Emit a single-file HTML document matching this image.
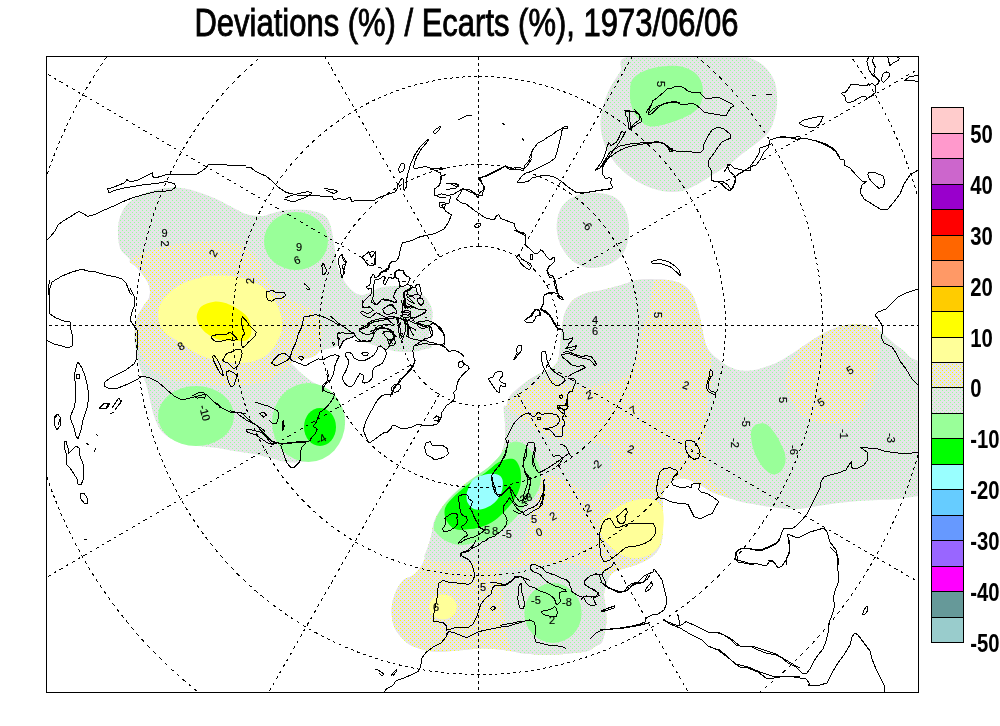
<!DOCTYPE html>
<html><head><meta charset="utf-8"><title>Deviations (%) / Ecarts (%), 1973/06/06</title>
<style>
html,body{margin:0;padding:0;background:#fff;width:1000px;height:726px;overflow:hidden}
svg{display:block}
.leg{font-family:"Liberation Sans",Arial,sans-serif;font-weight:bold;font-size:26px;fill:#000}
.ttl{font-family:"Liberation Sans",Arial,sans-serif;font-size:39px;fill:#000}
.lab{font-family:"Liberation Sans",Arial,sans-serif;font-size:11px;fill:#000;stroke:#000;stroke-width:0.15}
</style></head><body>
<svg width="1000" height="726" viewBox="0 0 1000 726">
<defs>
<clipPath id="frameclip"><rect x="46" y="56" width="873" height="637"/></clipPath>
<pattern id="pG" width="4" height="4" patternUnits="userSpaceOnUse"><rect width="4" height="4" fill="#E6E4E8"/><rect x="0" y="0" width="1" height="1" fill="#99FF99"/><rect x="2" y="2" width="1" height="1" fill="#99FF99"/></pattern>
<pattern id="pY" width="4" height="4" patternUnits="userSpaceOnUse"><rect width="4" height="4" fill="#E6E4E8"/><rect x="0" y="0" width="1" height="1" fill="#FFFF00"/><rect x="2" y="2" width="1" height="1" fill="#FFFF00"/></pattern>
</defs>
<rect width="1000" height="726" fill="#fff"/>
<text class="ttl" x="194.5" y="36" textLength="544" lengthAdjust="spacingAndGlyphs" stroke="#000" stroke-width="0.9">Deviations (%) / Ecarts (%), 1973/06/06</text>
<g clip-path="url(#frameclip)">
<path d="M120.0,248.0 C118.2,243.0 117.7,234.0 118.0,228.0 C118.3,222.0 119.7,216.7 122.0,212.0 C124.3,207.3 127.7,203.3 132.0,200.0 C136.3,196.7 142.3,194.0 148.0,192.0 C153.7,190.0 160.3,188.7 166.0,188.0 C171.7,187.3 176.7,187.3 182.0,188.0 C187.3,188.7 192.7,190.3 198.0,192.0 C203.3,193.7 208.7,195.7 214.0,198.0 C219.3,200.3 224.7,203.3 230.0,206.0 C235.3,208.7 240.7,212.3 246.0,214.0 C251.3,215.7 258.0,216.0 262.0,216.0 C266.0,216.0 266.0,215.0 270.0,214.0 C274.0,213.0 280.0,210.7 286.0,210.0 C292.0,209.3 300.0,209.3 306.0,210.0 C312.0,210.7 318.0,211.7 322.0,214.0 C326.0,216.3 327.8,218.0 330.0,224.0 C332.2,230.0 333.8,243.3 335.0,250.0 C336.2,256.7 336.0,259.8 337.0,264.0 C338.0,268.2 339.3,271.5 341.0,275.0 C342.7,278.5 344.8,282.2 347.0,285.0 C349.2,287.8 351.5,290.3 354.0,292.0 C356.5,293.7 359.2,295.0 362.0,295.0 C364.8,295.0 368.2,293.2 371.0,292.0 C373.8,290.8 376.3,288.9 379.0,288.0 C381.7,287.1 384.2,286.8 387.0,286.5 C389.8,286.2 393.2,286.0 396.0,286.0 C398.8,286.0 401.2,286.0 404.0,286.5 C406.8,287.0 410.2,287.8 413.0,289.0 C415.8,290.2 418.5,291.7 421.0,293.6 C423.5,295.5 426.2,298.0 428.0,300.6 C429.8,303.2 431.2,306.2 432.0,309.0 C432.8,311.8 432.7,314.7 432.5,317.5 C432.3,320.3 431.6,323.2 431.0,326.0 C430.4,328.8 429.5,331.5 429.0,334.0 C428.5,336.5 427.5,338.8 428.0,341.0 C428.5,343.2 432.7,345.6 432.0,347.0 C431.3,348.4 426.9,348.8 424.0,349.6 C421.1,350.4 417.6,351.3 414.4,351.7 C411.2,352.1 408.0,352.1 404.8,352.0 C401.6,351.9 398.4,351.7 395.2,351.2 C392.0,350.7 388.3,349.5 385.6,348.8 C382.9,348.1 381.3,347.9 379.2,347.2 C377.1,346.5 374.9,345.6 372.8,344.8 C370.7,344.0 368.5,343.2 366.4,342.4 C364.3,341.6 362.1,340.9 360.0,340.0 C357.9,339.1 355.7,336.8 353.6,336.8 C351.5,336.8 349.3,338.8 347.2,340.0 C345.1,341.2 342.9,342.8 340.8,344.0 C338.7,345.2 337.1,346.3 334.4,347.2 C331.7,348.1 328.0,348.7 324.8,349.6 C321.6,350.5 318.4,351.7 315.2,352.8 C312.0,353.9 308.8,355.1 305.6,356.0 C302.4,356.9 298.7,357.5 296.0,358.4 C293.3,359.3 289.9,360.3 289.6,361.6 C289.3,362.9 292.5,364.5 294.4,366.4 C296.3,368.3 298.1,370.4 300.8,372.8 C303.5,375.2 307.3,378.4 310.8,380.8 C314.3,383.2 318.5,384.8 322.0,387.2 C325.5,389.6 328.7,392.5 331.6,395.2 C334.5,397.9 337.5,400.3 339.6,403.2 C341.7,406.1 343.5,409.3 344.4,412.8 C345.3,416.3 345.4,420.1 345.0,424.0 C344.6,427.9 343.5,432.3 342.0,436.0 C340.5,439.7 338.7,443.0 336.0,446.0 C333.3,449.0 329.7,451.7 326.0,454.0 C322.3,456.3 318.0,458.7 314.0,460.0 C310.0,461.3 306.7,461.7 302.0,462.0 C297.3,462.3 291.3,462.7 286.0,462.0 C280.7,461.3 275.3,459.3 270.0,458.0 C264.7,456.7 260.0,455.2 254.0,454.0 C248.0,452.8 240.0,452.0 234.0,451.0 C228.0,450.0 224.0,448.8 218.0,448.0 C212.0,447.2 204.7,447.0 198.0,446.0 C191.3,445.0 184.0,444.3 178.0,442.0 C172.0,439.7 166.0,436.3 162.0,432.0 C158.0,427.7 156.0,421.3 154.0,416.0 C152.0,410.7 151.3,405.3 150.0,400.0 C148.7,394.7 147.7,389.3 146.0,384.0 C144.3,378.7 141.7,373.7 140.0,368.0 C138.3,362.3 136.9,354.7 136.0,350.0 C135.1,345.3 134.7,343.2 134.5,340.0 C134.3,336.8 134.5,334.3 134.8,331.0 C135.1,327.7 135.6,323.1 136.4,320.0 C137.2,316.9 138.2,315.2 139.4,312.7 C140.7,310.2 142.4,307.5 143.9,305.2 C145.4,302.9 147.5,301.3 148.5,299.0 C149.5,296.7 150.0,294.0 150.0,291.5 C150.0,289.0 149.5,286.5 148.5,284.0 C147.5,281.5 146.0,279.2 144.0,276.4 C142.0,273.6 138.9,270.3 136.4,267.3 C133.9,264.3 131.5,261.4 128.8,258.2 C126.1,255.0 121.8,253.0 120.0,248.0Z" fill="url(#pG)"/>
<path d="M632.0,56.0 C613.0,58.7 624.0,66.0 620.0,72.0 C616.0,78.0 611.2,84.7 608.0,92.0 C604.8,99.3 602.0,108.7 601.0,116.0 C600.0,123.3 600.5,129.3 602.0,136.0 C603.5,142.7 606.3,150.0 610.0,156.0 C613.7,162.0 618.7,167.3 624.0,172.0 C629.3,176.7 635.7,180.8 642.0,184.0 C648.3,187.2 655.3,189.8 662.0,191.0 C668.7,192.2 676.0,192.2 682.0,191.0 C688.0,189.8 692.7,186.8 698.0,184.0 C703.3,181.2 708.7,177.3 714.0,174.0 C719.3,170.7 725.3,167.3 730.0,164.0 C734.7,160.7 737.3,157.7 742.0,154.0 C746.7,150.3 753.3,146.0 758.0,142.0 C762.7,138.0 767.0,135.0 770.0,130.0 C773.0,125.0 774.8,117.7 776.0,112.0 C777.2,106.3 777.3,101.3 777.0,96.0 C776.7,90.7 776.2,85.0 774.0,80.0 C771.8,75.0 768.0,69.7 764.0,66.0 C760.0,62.3 755.0,59.7 750.0,58.0 C745.0,56.3 753.7,56.3 734.0,56.0 C714.3,55.7 651.0,53.3 632.0,56.0Z" fill="url(#pG)"/>
<path d="M558.0,216.0 C559.2,211.3 560.7,207.5 564.0,204.0 C567.3,200.5 572.3,196.8 578.0,195.0 C583.7,193.2 591.7,192.5 598.0,193.0 C604.3,193.5 611.3,194.8 616.0,198.0 C620.7,201.2 623.8,206.3 626.0,212.0 C628.2,217.7 629.3,225.3 629.0,232.0 C628.7,238.7 627.2,246.7 624.0,252.0 C620.8,257.3 615.7,261.3 610.0,264.0 C604.3,266.7 596.0,268.3 590.0,268.0 C584.0,267.7 578.7,265.3 574.0,262.0 C569.3,258.7 564.8,253.0 562.0,248.0 C559.2,243.0 557.7,237.3 557.0,232.0 C556.3,226.7 556.8,220.7 558.0,216.0Z" fill="url(#pG)"/>
<path d="M507.8,400.0 C508.4,398.0 508.0,400.0 510.0,398.0 C512.0,396.0 516.0,391.3 520.0,388.0 C524.0,384.7 530.0,380.3 534.0,378.0 C538.0,375.7 541.0,375.7 544.0,374.0 C547.0,372.3 549.7,370.3 552.0,368.0 C554.3,365.7 556.7,363.0 558.0,360.0 C559.3,357.0 559.5,354.3 560.0,350.0 C560.5,345.7 560.3,339.0 561.0,334.0 C561.7,329.0 562.2,324.7 564.0,320.0 C565.8,315.3 568.7,310.3 572.0,306.0 C575.3,301.7 579.2,296.6 584.0,294.0 C588.8,291.4 595.6,291.6 600.8,290.4 C606.0,289.2 610.6,288.0 615.0,286.8 C619.4,285.6 624.0,284.2 627.0,283.2 C630.0,282.2 630.2,281.6 633.0,281.0 C635.8,280.4 638.2,279.8 644.0,279.6 C649.8,279.4 661.6,279.2 668.0,280.0 C674.4,280.8 678.4,282.1 682.4,284.4 C686.4,286.7 689.2,289.2 692.0,294.0 C694.8,298.8 697.2,306.7 699.0,313.0 C700.8,319.3 701.6,326.7 702.8,332.0 C704.0,337.3 704.5,341.3 706.0,345.0 C707.5,348.7 710.0,351.7 712.0,354.0 C714.0,356.3 715.7,357.2 718.0,359.0 C720.3,360.8 722.7,363.2 726.0,365.0 C729.3,366.8 734.0,369.1 738.0,370.0 C742.0,370.9 746.0,370.9 750.0,370.6 C754.0,370.3 757.7,369.3 762.0,368.0 C766.3,366.7 771.3,365.2 776.0,363.0 C780.7,360.8 785.7,357.7 790.0,355.0 C794.3,352.3 798.0,349.7 802.0,347.0 C806.0,344.3 810.0,341.5 814.0,339.0 C818.0,336.5 822.0,334.0 826.0,332.0 C830.0,330.0 834.0,328.2 838.0,327.0 C842.0,325.8 846.0,325.0 850.0,324.6 C854.0,324.2 858.3,324.2 862.0,324.6 C865.7,325.0 869.0,325.9 872.0,327.0 C875.0,328.1 877.3,329.2 880.0,331.0 C882.7,332.8 885.3,335.7 888.0,338.0 C890.7,340.3 893.3,342.8 896.0,345.0 C898.7,347.2 901.7,349.0 904.0,351.0 C906.3,353.0 907.7,355.3 910.0,357.0 C912.3,358.7 914.7,359.5 918.0,361.0 C921.3,362.5 928.0,343.8 930.0,366.0 C932.0,388.2 932.0,472.3 930.0,494.0 C928.0,515.7 923.3,495.2 918.0,496.0 C912.7,496.8 904.7,498.3 898.0,499.0 C891.3,499.7 884.7,499.7 878.0,500.0 C871.3,500.3 864.7,500.5 858.0,501.0 C851.3,501.5 844.7,502.2 838.0,503.0 C831.3,503.8 824.7,505.0 818.0,506.0 C811.3,507.0 804.7,508.7 798.0,509.0 C791.3,509.3 784.7,508.7 778.0,508.0 C771.3,507.3 764.7,506.2 758.0,505.0 C751.3,503.8 744.3,502.7 738.0,501.0 C731.7,499.3 724.7,496.7 720.0,495.0 C715.3,493.3 713.0,492.5 710.0,491.0 C707.0,489.5 704.7,487.5 702.0,486.0 C699.3,484.5 696.7,483.2 694.0,482.0 C691.3,480.8 688.7,479.5 686.0,479.0 C683.3,478.5 680.7,478.3 678.0,479.0 C675.3,479.7 672.5,480.5 670.0,483.0 C667.5,485.5 664.2,490.2 663.0,494.0 C661.8,497.8 663.0,501.0 663.0,506.0 C663.0,511.0 663.2,518.3 663.0,524.0 C662.8,529.7 662.8,535.7 662.0,540.0 C661.2,544.3 660.0,547.0 658.0,550.0 C656.0,553.0 653.3,555.7 650.0,558.0 C646.7,560.3 642.0,562.3 638.0,564.0 C634.0,565.7 630.0,566.7 626.0,568.0 C622.0,569.3 617.0,570.0 614.0,572.0 C611.0,574.0 609.7,576.3 608.0,580.0 C606.3,583.7 604.3,589.0 604.0,594.0 C603.7,599.0 605.7,604.7 606.0,610.0 C606.3,615.3 606.7,620.7 606.0,626.0 C605.3,631.3 603.7,638.7 602.0,642.0 C600.3,645.3 597.8,644.7 595.8,646.0 C593.8,647.3 592.2,649.0 590.0,650.0 C587.8,651.0 585.5,651.5 582.8,652.0 C580.1,652.5 578.3,652.6 574.0,653.0 C569.7,653.4 563.1,654.2 556.8,654.4 C550.5,654.6 542.9,654.8 536.0,654.4 C529.1,654.0 521.7,652.7 515.2,651.8 C508.7,650.9 503.1,649.7 497.0,649.2 C490.9,648.7 485.3,648.5 478.8,648.7 C472.3,648.9 464.9,650.0 458.0,650.5 C451.1,651.0 443.3,652.0 437.2,651.8 C431.1,651.6 426.4,650.5 421.6,649.2 C416.8,647.9 412.5,646.6 408.6,644.0 C404.7,641.4 400.8,637.1 398.2,633.6 C395.6,630.1 394.1,627.5 393.0,623.2 C391.9,618.9 391.3,612.8 391.7,607.6 C392.1,602.4 393.7,596.6 395.6,592.0 C397.6,587.4 400.6,582.8 403.4,580.0 C406.2,577.2 409.8,577.5 412.6,575.5 C415.4,573.5 417.9,570.9 420.0,568.0 C422.1,565.1 423.7,561.3 425.0,558.0 C426.3,554.7 426.5,551.8 427.6,548.0 C428.7,544.2 430.3,539.7 431.4,535.4 C432.5,531.1 432.5,526.2 434.0,522.0 C435.5,517.8 437.1,514.8 440.2,510.3 C443.3,505.9 447.7,500.3 452.7,495.3 C457.7,490.3 464.3,484.8 470.2,480.2 C476.1,475.6 482.8,471.9 487.8,467.7 C492.8,463.5 497.4,459.8 500.3,455.2 C503.2,450.6 504.2,445.0 505.0,440.0 C505.8,435.0 504.7,430.0 505.0,425.0 C505.3,420.0 506.1,414.2 506.6,410.0 C507.1,405.8 507.2,402.0 507.8,400.0Z" fill="url(#pG)"/>
<path d="M129.5,261.0 C129.9,258.9 135.6,256.7 139.0,255.0 C142.4,253.3 146.2,251.9 150.0,250.6 C153.8,249.3 156.0,248.3 162.0,247.0 C168.0,245.7 177.3,243.8 186.0,243.0 C194.7,242.2 205.3,241.8 214.0,242.0 C222.7,242.2 231.0,241.7 238.0,244.0 C245.0,246.3 251.3,250.7 256.0,256.0 C260.7,261.3 263.3,270.7 266.0,276.0 C268.7,281.3 268.5,284.2 272.0,288.0 C275.5,291.8 282.7,296.5 287.0,299.0 C291.3,301.5 294.3,301.5 298.0,303.0 C301.7,304.5 306.2,306.6 309.0,308.0 C311.8,309.4 313.2,309.5 315.0,311.5 C316.8,313.5 318.8,317.6 320.0,320.0 C321.2,322.4 321.7,322.7 322.0,326.0 C322.3,329.3 322.5,335.7 322.0,340.0 C321.5,344.3 321.0,349.0 319.0,352.0 C317.0,355.0 313.8,356.7 310.0,358.0 C306.2,359.3 300.0,358.3 296.0,360.0 C292.0,361.7 290.3,364.7 286.0,368.0 C281.7,371.3 275.3,377.3 270.0,380.0 C264.7,382.7 260.7,383.0 254.0,384.0 C247.3,385.0 238.0,386.0 230.0,386.0 C222.0,386.0 215.3,385.0 206.0,384.0 C196.7,383.0 183.3,382.7 174.0,380.0 C164.7,377.3 155.7,372.7 150.0,368.0 C144.3,363.3 142.3,356.7 140.0,352.0 C137.7,347.3 136.9,343.5 136.0,340.0 C135.1,336.5 134.7,334.3 134.8,331.0 C134.9,327.7 135.6,323.1 136.4,320.0 C137.2,316.9 138.2,315.2 139.4,312.7 C140.7,310.2 142.4,307.5 143.9,305.2 C145.4,302.9 147.5,301.3 148.5,299.0 C149.5,296.7 150.0,294.0 150.0,291.5 C150.0,289.0 149.5,286.5 148.5,284.0 C147.5,281.5 146.0,279.2 144.0,276.4 C142.0,273.6 138.8,269.9 136.4,267.3 C134.0,264.7 129.1,263.1 129.5,261.0Z" fill="url(#pY)"/>
<path d="M633.0,281.0 C635.8,280.4 638.2,279.8 644.0,279.6 C649.8,279.4 661.6,279.2 668.0,280.0 C674.4,280.8 678.4,282.1 682.4,284.4 C686.4,286.7 689.2,289.2 692.0,294.0 C694.8,298.8 697.2,306.7 699.0,313.0 C700.8,319.3 701.6,326.7 702.8,332.0 C704.0,337.3 704.6,340.7 706.0,345.0 C707.4,349.3 710.0,353.5 711.0,358.0 C712.0,362.5 712.0,367.5 712.0,372.0 C712.0,376.5 711.7,381.0 711.0,385.0 C710.3,389.0 708.7,391.8 708.0,396.0 C707.3,400.2 707.2,405.3 707.0,410.0 C706.8,414.7 706.7,419.3 706.5,424.0 C706.3,428.7 706.1,433.3 706.0,438.0 C705.9,442.7 705.8,447.7 706.0,452.0 C706.2,456.3 706.8,460.0 707.5,464.0 C708.2,468.0 709.0,472.6 710.4,476.0 C711.8,479.4 713.8,482.3 716.0,484.7 C718.2,487.1 721.1,488.5 723.4,490.4 C725.7,492.3 730.6,495.2 730.0,496.0 C729.4,496.8 723.3,495.8 720.0,495.0 C716.7,494.2 713.0,492.5 710.0,491.0 C707.0,489.5 704.7,487.5 702.0,486.0 C699.3,484.5 696.7,483.2 694.0,482.0 C691.3,480.8 688.7,479.5 686.0,479.0 C683.3,478.5 680.7,478.3 678.0,479.0 C675.3,479.7 672.5,480.5 670.0,483.0 C667.5,485.5 664.2,490.2 663.0,494.0 C661.8,497.8 663.0,501.0 663.0,506.0 C663.0,511.0 663.2,518.3 663.0,524.0 C662.8,529.7 662.8,535.7 662.0,540.0 C661.2,544.3 660.0,547.0 658.0,550.0 C656.0,553.0 653.3,555.7 650.0,558.0 C646.7,560.3 642.0,562.3 638.0,564.0 C634.0,565.7 630.0,566.7 626.0,568.0 C622.0,569.3 617.0,570.0 614.0,572.0 C611.0,574.0 609.7,576.3 608.0,580.0 C606.3,583.7 604.3,589.0 604.0,594.0 C603.7,599.0 605.7,604.7 606.0,610.0 C606.3,615.3 606.7,620.7 606.0,626.0 C605.3,631.3 603.7,638.7 602.0,642.0 C600.3,645.3 597.8,644.7 595.8,646.0 C593.8,647.3 592.2,649.0 590.0,650.0 C587.8,651.0 585.5,651.5 582.8,652.0 C580.1,652.5 578.3,652.6 574.0,653.0 C569.7,653.4 563.1,654.2 556.8,654.4 C550.5,654.6 542.9,654.8 536.0,654.4 C529.1,654.0 521.7,652.7 515.2,651.8 C508.7,650.9 503.1,649.7 497.0,649.2 C490.9,648.7 485.3,648.5 478.8,648.7 C472.3,648.9 464.9,650.0 458.0,650.5 C451.1,651.0 443.3,652.0 437.2,651.8 C431.1,651.6 426.4,650.5 421.6,649.2 C416.8,647.9 412.5,646.6 408.6,644.0 C404.7,641.4 400.8,637.1 398.2,633.6 C395.6,630.1 394.1,627.5 393.0,623.2 C391.9,618.9 391.3,612.8 391.7,607.6 C392.1,602.4 393.7,596.6 395.6,592.0 C397.6,587.4 400.6,582.8 403.4,580.0 C406.2,577.2 409.8,577.5 412.6,575.5 C415.4,573.5 417.9,570.9 420.0,568.0 C422.1,565.1 423.7,561.3 425.0,558.0 C426.3,554.7 426.5,551.8 427.6,548.0 C428.7,544.2 430.3,539.7 431.4,535.4 C432.5,531.1 432.6,526.2 434.0,522.0 C435.4,517.8 437.0,514.5 440.0,510.0 C443.0,505.5 447.0,500.0 452.0,495.0 C457.0,490.0 464.0,484.5 470.0,480.0 C476.0,475.5 483.0,472.2 488.0,468.0 C493.0,463.8 497.2,459.7 500.0,455.0 C502.8,450.3 504.2,445.0 505.0,440.0 C505.8,435.0 504.5,431.7 505.0,425.0 C505.5,418.3 505.5,406.2 507.8,400.0 C510.1,393.8 514.3,391.7 519.0,387.6 C523.7,383.5 530.0,379.2 536.0,375.6 C542.0,372.0 551.2,369.2 555.0,366.0 C558.8,362.8 557.8,361.2 558.8,356.4 C559.8,351.6 560.4,342.2 561.0,337.0 C561.6,331.8 561.8,329.0 562.4,325.0 C563.0,321.0 563.2,317.0 564.8,313.0 C566.4,309.0 568.8,304.2 572.0,301.0 C575.2,297.8 579.2,295.8 584.0,294.0 C588.8,292.2 595.6,291.6 600.8,290.4 C606.0,289.2 610.6,288.0 615.0,286.8 C619.4,285.6 624.0,284.2 627.0,283.2 C630.0,282.2 630.2,281.6 633.0,281.0Z" fill="url(#pY)"/>
<path d="M798.0,351.0 C796.0,354.0 792.0,360.3 790.0,365.0 C788.0,369.7 786.3,374.3 786.0,379.0 C785.7,383.7 786.7,388.7 788.0,393.0 C789.3,397.3 791.7,401.3 794.0,405.0 C796.3,408.7 798.3,412.2 802.0,415.0 C805.7,417.8 810.5,420.5 816.0,422.0 C821.5,423.5 829.3,424.0 835.0,424.0 C840.7,424.0 846.2,423.3 850.0,422.0 C853.8,420.7 855.3,419.3 858.0,416.0 C860.7,412.7 863.3,407.8 866.0,402.0 C868.7,396.2 872.0,387.2 874.0,381.0 C876.0,374.8 877.0,371.0 878.0,365.0 C879.0,359.0 880.0,351.0 880.0,345.0 C880.0,339.0 879.3,332.0 878.0,329.0 C876.7,326.0 874.7,327.7 872.0,327.0 C869.3,326.3 865.7,325.0 862.0,324.6 C858.3,324.2 854.0,324.2 850.0,324.6 C846.0,325.0 842.0,325.8 838.0,327.0 C834.0,328.2 830.0,330.0 826.0,332.0 C822.0,334.0 818.0,336.5 814.0,339.0 C810.0,341.5 804.7,345.0 802.0,347.0 C799.3,349.0 800.0,348.0 798.0,351.0Z" fill="url(#pY)"/>
<path d="M507.8,400.0 C507.4,400.1 507.7,401.7 509.6,399.6 C511.5,397.5 514.6,391.6 519.0,387.6 C523.4,383.6 530.0,379.2 536.0,375.6 C542.0,372.0 551.2,369.2 555.0,366.0 C558.8,362.8 557.8,361.2 558.8,356.4 C559.8,351.6 560.4,342.2 561.0,337.0 C561.6,331.8 561.8,329.0 562.4,325.0 C563.0,321.0 563.2,317.0 564.8,313.0 C566.4,309.0 568.8,304.2 572.0,301.0 C575.2,297.8 579.2,295.8 584.0,294.0 C588.8,292.2 595.6,291.6 600.8,290.4 C606.0,289.2 610.6,288.0 615.0,286.8 C619.4,285.6 624.0,284.2 627.0,283.2 C630.0,282.2 630.2,281.6 633.0,281.0 C635.8,280.4 640.6,279.8 644.0,279.6 C647.4,279.4 652.2,278.2 653.6,279.6 C655.0,281.0 652.9,285.3 652.4,288.0 C651.9,290.7 651.2,293.3 650.8,296.0 C650.4,298.7 650.4,301.3 650.0,304.0 C649.6,306.7 649.1,309.3 648.4,312.0 C647.7,314.7 647.1,317.0 646.0,320.0 C644.9,323.0 643.0,326.7 642.0,330.0 C641.0,333.3 640.7,336.7 640.0,340.0 C639.3,343.3 638.7,346.7 638.0,350.0 C637.3,353.3 636.8,357.0 636.0,360.0 C635.2,363.0 634.3,365.7 633.0,368.0 C631.7,370.3 630.2,372.2 628.0,374.0 C625.8,375.8 623.0,377.7 620.0,379.0 C617.0,380.3 613.3,381.0 610.0,382.0 C606.7,383.0 603.3,384.2 600.0,385.0 C596.7,385.8 593.3,386.5 590.0,387.0 C586.7,387.5 583.3,388.2 580.0,388.0 C576.7,387.8 573.3,387.2 570.0,386.0 C566.7,384.8 563.3,382.3 560.0,381.0 C556.7,379.7 553.3,378.2 550.0,378.0 C546.7,377.8 543.3,378.7 540.0,380.0 C536.7,381.3 533.3,383.8 530.0,386.0 C526.7,388.2 523.0,390.8 520.0,393.0 C517.0,395.2 514.0,397.8 512.0,399.0 C510.0,400.2 508.2,399.9 507.8,400.0Z" fill="url(#pG)"/>
<path d="M504.0,406.0 C505.2,403.8 509.3,410.0 512.0,412.0 C514.7,414.0 517.0,416.0 520.0,418.0 C523.0,420.0 526.7,421.7 530.0,424.0 C533.3,426.3 536.7,429.8 540.0,432.0 C543.3,434.2 546.7,435.7 550.0,437.0 C553.3,438.3 556.7,439.7 560.0,440.0 C563.3,440.3 566.7,439.0 570.0,439.0 C573.3,439.0 576.7,439.5 580.0,440.0 C583.3,440.5 586.7,441.3 590.0,442.0 C593.3,442.7 596.7,443.0 600.0,444.0 C603.3,445.0 608.1,446.3 610.0,448.0 C611.9,449.7 611.0,451.0 611.2,454.0 C611.4,457.0 611.4,462.0 611.2,466.0 C611.0,470.0 611.0,474.5 610.0,478.0 C609.0,481.5 607.5,485.0 605.0,487.0 C602.5,489.0 599.2,489.8 595.0,490.0 C590.8,490.2 585.0,489.7 580.0,488.0 C575.0,486.3 570.0,482.2 565.0,480.0 C560.0,477.8 554.2,475.0 550.0,475.0 C545.8,475.0 542.0,476.7 540.0,480.0 C538.0,483.3 539.3,490.0 538.0,495.0 C536.7,500.0 533.7,505.0 532.0,510.0 C530.3,515.0 529.2,520.0 528.0,525.0 C526.8,530.0 526.3,534.8 525.0,540.0 C523.7,545.2 523.3,552.3 520.0,556.0 C516.7,559.7 511.7,561.0 505.0,562.0 C498.3,563.0 487.5,562.0 480.0,562.0 C472.5,562.0 466.7,562.0 460.0,562.0 C453.3,562.0 445.8,562.7 440.0,562.0 C434.2,561.3 427.1,560.3 425.0,558.0 C422.9,555.7 426.5,551.8 427.6,548.0 C428.7,544.2 430.3,539.7 431.4,535.4 C432.5,531.1 432.5,526.2 434.0,522.0 C435.5,517.8 437.1,514.8 440.2,510.3 C443.3,505.9 447.7,500.3 452.7,495.3 C457.7,490.3 464.3,484.8 470.2,480.2 C476.1,475.6 482.8,471.9 487.8,467.7 C492.8,463.5 497.4,459.8 500.3,455.2 C503.2,450.6 504.2,445.0 505.0,440.0 C505.8,435.0 505.2,430.7 505.0,425.0 C504.8,419.3 502.8,408.2 504.0,406.0Z" fill="url(#pG)"/>
<path d="M500.0,568.8 C503.7,565.7 516.0,567.2 524.0,566.4 C532.0,565.6 540.0,564.4 548.0,564.0 C556.0,563.6 564.0,563.2 572.0,564.0 C580.0,564.8 590.0,567.2 596.0,568.8 C602.0,570.4 606.0,571.7 608.0,573.6 C610.0,575.5 608.7,576.6 608.0,580.0 C607.3,583.4 604.3,589.0 604.0,594.0 C603.7,599.0 605.7,604.7 606.0,610.0 C606.3,615.3 606.7,620.7 606.0,626.0 C605.3,631.3 603.7,638.7 602.0,642.0 C600.3,645.3 597.8,644.7 595.8,646.0 C593.8,647.3 592.2,649.0 590.0,650.0 C587.8,651.0 585.5,651.5 582.8,652.0 C580.1,652.5 578.3,652.6 574.0,653.0 C569.7,653.4 563.1,654.2 556.8,654.4 C550.5,654.6 542.9,654.8 536.0,654.4 C529.1,654.0 519.9,654.2 515.2,651.8 C510.5,649.4 509.7,645.3 508.0,640.0 C506.3,634.7 505.7,626.7 505.0,620.0 C504.3,613.3 504.5,605.8 504.0,600.0 C503.5,594.2 502.7,590.2 502.0,585.0 C501.3,579.8 496.3,571.9 500.0,568.8Z" fill="url(#pG)"/>
<path d="M158.3,317.0 C158.0,313.9 158.1,311.0 159.0,308.0 C159.9,305.0 161.3,302.0 163.6,299.0 C165.9,296.0 169.2,292.8 172.7,290.0 C176.2,287.2 180.2,284.4 184.8,282.4 C189.4,280.4 196.5,279.1 200.0,278.0 C203.5,276.9 201.0,276.3 206.0,276.0 C211.0,275.7 222.0,275.0 230.0,276.0 C238.0,277.0 247.3,279.0 254.0,282.0 C260.7,285.0 265.7,289.0 270.0,294.0 C274.3,299.0 278.0,306.3 280.0,312.0 C282.0,317.7 282.3,323.3 282.0,328.0 C281.7,332.7 280.3,335.7 278.0,340.0 C275.7,344.3 272.7,350.3 268.0,354.0 C263.3,357.7 257.0,360.7 250.0,362.0 C243.0,363.3 234.0,363.0 226.0,362.0 C218.0,361.0 208.9,358.7 202.0,356.0 C195.1,353.3 189.2,348.7 184.8,346.0 C180.4,343.3 178.8,342.0 175.8,340.0 C172.8,338.0 169.2,336.3 166.7,334.0 C164.2,331.7 162.0,329.2 160.6,326.4 C159.2,323.6 158.6,320.1 158.3,317.0Z" fill="#FFFF99"/>
<path d="M197.1,314.3 C197.7,312.2 199.0,308.9 200.7,307.1 C202.3,305.3 204.8,304.4 207.0,303.5 C209.2,302.6 211.6,301.9 214.2,301.7 C216.8,301.5 219.6,301.7 222.3,302.2 C225.0,302.7 227.9,303.8 230.5,304.9 C233.1,306.0 235.3,307.3 237.7,308.9 C240.1,310.5 242.9,312.4 244.9,314.3 C246.9,316.2 248.4,318.4 249.4,320.6 C250.4,322.9 250.9,325.7 251.2,327.8 C251.5,329.9 251.5,331.6 251.2,333.2 C250.9,334.8 250.3,336.5 249.4,337.7 C248.5,338.9 247.2,340.0 245.8,340.5 C244.5,341.0 243.0,340.9 241.3,340.9 C239.7,340.9 237.7,340.6 235.9,340.5 C234.1,340.4 232.6,340.5 230.5,340.5 C228.4,340.5 225.5,340.7 223.2,340.5 C220.9,340.3 219.0,339.9 216.9,339.1 C214.8,338.3 212.7,337.2 210.6,335.9 C208.5,334.6 206.1,333.0 204.3,331.4 C202.5,329.8 201.0,327.9 199.8,326.0 C198.6,324.1 197.6,321.6 197.1,319.7 C196.6,317.8 196.5,316.4 197.1,314.3Z" fill="#FFFF00"/>
<path d="M600.0,524.0 C601.0,520.3 604.7,517.0 608.0,514.0 C611.3,511.0 616.0,508.2 620.0,506.0 C624.0,503.8 628.0,502.2 632.0,501.0 C636.0,499.8 640.3,499.2 644.0,499.0 C647.7,498.8 651.2,498.8 654.0,500.0 C656.8,501.2 659.4,503.3 661.0,506.0 C662.6,508.7 663.3,512.0 663.6,516.0 C663.9,520.0 663.6,525.3 663.0,530.0 C662.4,534.7 661.5,540.3 660.0,544.0 C658.5,547.7 656.7,549.8 654.0,552.0 C651.3,554.2 647.7,556.0 644.0,557.0 C640.3,558.0 636.0,558.5 632.0,558.0 C628.0,557.5 623.7,556.0 620.0,554.0 C616.3,552.0 613.0,549.0 610.0,546.0 C607.0,543.0 603.7,539.7 602.0,536.0 C600.3,532.3 599.0,527.7 600.0,524.0Z" fill="#FFFF99"/>
<ellipse cx="443" cy="607" rx="13.7" ry="12.4" fill="#FFFF99"/>
<ellipse cx="296" cy="241" rx="32" ry="29" fill="#99FF99"/>
<ellipse cx="196" cy="416" rx="38" ry="30" fill="#99FF99"/>
<ellipse cx="308.5" cy="422.5" rx="36.5" ry="39.5" fill="#99FF99"/>
<ellipse cx="320" cy="427" rx="16" ry="19" fill="#00FF00"/>
<path d="M630.0,92.0 C630.2,88.0 630.0,83.3 632.0,80.0 C634.0,76.7 637.7,74.2 642.0,72.0 C646.3,69.8 652.0,68.0 658.0,67.0 C664.0,66.0 672.0,65.2 678.0,66.0 C684.0,66.8 690.0,69.0 694.0,72.0 C698.0,75.0 700.7,79.3 702.0,84.0 C703.3,88.7 703.3,95.3 702.0,100.0 C700.7,104.7 698.0,108.7 694.0,112.0 C690.0,115.3 684.0,117.7 678.0,120.0 C672.0,122.3 663.3,125.2 658.0,126.0 C652.7,126.8 649.7,126.7 646.0,125.0 C642.3,123.3 638.5,119.5 636.0,116.0 C633.5,112.5 632.0,108.0 631.0,104.0 C630.0,100.0 629.8,96.0 630.0,92.0Z" fill="#99FF99"/>
<path d="M433.9,525.4 C434.5,521.6 437.1,515.3 440.2,510.3 C443.3,505.3 447.7,500.3 452.7,495.3 C457.7,490.3 464.3,484.8 470.2,480.2 C476.1,475.6 482.8,471.9 487.8,467.7 C492.8,463.5 497.0,459.0 500.3,455.2 C503.6,451.4 505.4,447.4 507.9,445.1 C510.4,442.8 512.5,441.4 515.4,441.4 C518.3,441.4 522.1,442.4 525.4,445.1 C528.7,447.8 532.9,453.5 535.4,457.7 C537.9,461.9 539.6,466.0 540.4,470.2 C541.2,474.4 541.2,478.5 540.4,482.7 C539.6,486.9 537.9,491.5 535.4,495.3 C532.9,499.1 528.7,501.5 525.4,505.3 C522.1,509.1 518.8,514.1 515.4,517.9 C512.0,521.7 508.6,525.0 505.3,527.9 C502.0,530.8 499.1,533.3 495.3,535.4 C491.6,537.5 487.4,538.9 482.8,540.4 C478.2,541.9 471.9,543.5 467.7,544.2 C463.5,545.0 461.4,545.5 457.7,544.9 C453.9,544.3 448.8,542.4 445.2,540.4 C441.6,538.4 438.3,535.4 436.4,532.9 C434.5,530.4 433.3,529.2 433.9,525.4Z" fill="#99FF99"/>
<path d="M445.2,507.8 C446.7,503.6 451.0,499.5 455.2,495.3 C459.4,491.1 465.2,486.5 470.2,482.7 C475.2,478.9 480.7,476.0 485.3,472.7 C489.9,469.4 494.0,465.0 497.8,462.7 C501.6,460.4 505.0,459.3 507.9,458.9 C510.8,458.5 513.3,458.3 515.4,460.2 C517.5,462.1 519.6,466.0 520.4,470.2 C521.2,474.4 521.2,480.7 520.4,485.3 C519.6,489.9 517.5,494.1 515.4,497.8 C513.3,501.6 510.8,504.5 507.9,507.8 C505.0,511.1 501.6,515.0 497.8,517.9 C494.0,520.8 489.9,523.5 485.3,525.4 C480.7,527.3 475.2,528.5 470.2,529.1 C465.2,529.7 459.2,530.6 455.2,529.1 C451.2,527.6 448.1,523.9 446.4,520.4 C444.7,516.9 443.7,512.0 445.2,507.8Z" fill="#00FF00"/>
<path d="M467.7,490.3 C468.7,487.8 470.2,482.7 472.7,480.2 C475.2,477.7 479.0,476.2 482.8,475.2 C486.6,474.2 492.2,473.6 495.3,474.0 C498.4,474.4 500.4,475.8 501.6,477.7 C502.9,479.6 503.0,482.4 502.8,485.3 C502.6,488.2 502.0,492.2 500.3,495.3 C498.6,498.4 495.7,501.8 492.8,504.1 C489.9,506.4 485.9,508.3 482.8,509.1 C479.7,509.9 476.5,510.2 474.0,509.1 C471.5,508.1 468.9,505.1 467.7,502.8 C466.4,500.5 466.5,497.4 466.5,495.3 C466.5,493.2 466.7,492.8 467.7,490.3Z" fill="#99FFFF"/>
<ellipse cx="553" cy="613" rx="28.6" ry="29.9" fill="#99FF99"/>
<path d="M758.0,424.0 C760.0,423.7 763.3,422.7 766.0,424.0 C768.7,425.3 771.7,429.0 774.0,432.0 C776.3,435.0 778.2,438.3 780.0,442.0 C781.8,445.7 784.2,450.3 785.0,454.0 C785.8,457.7 785.8,461.0 785.0,464.0 C784.2,467.0 781.8,470.3 780.0,472.0 C778.2,473.7 776.0,474.4 774.0,474.4 C772.0,474.4 770.0,473.4 768.0,472.0 C766.0,470.6 764.0,468.7 762.0,466.0 C760.0,463.3 757.7,459.7 756.0,456.0 C754.3,452.3 752.8,448.0 752.0,444.0 C751.2,440.0 750.7,435.0 751.0,432.0 C751.3,429.0 752.8,427.3 754.0,426.0 C755.2,424.7 756.0,424.3 758.0,424.0Z" fill="#99FF99"/>
</g>
<g clip-path="url(#frameclip)"><path d="M479.0,246.5L482.0,246.6M485.2,246.7L487.9,247.0M491.0,247.4L494.0,248.0M497.1,248.6L500.0,249.4M503.0,250.3L505.8,251.3M509.1,252.6L511.8,253.8M515.1,255.4L517.9,257.0M521.1,258.9L524.0,260.8M527.2,263.2L529.8,265.4M533.1,268.4L535.9,271.3M538.7,274.4L540.9,277.1M543.3,280.3L545.2,283.3M547.1,286.5L548.5,289.1M550.2,292.5L551.4,295.2M552.6,298.5L553.5,301.1M554.5,304.4L555.2,307.1M556.0,310.5L556.5,313.2M556.9,316.4L557.2,319.1M557.4,322.4L557.5,325.1M557.5,328.4L557.3,331.1M557.1,334.4L556.7,337.1M556.2,340.3L555.6,343.2M554.9,346.4L554.1,349.0M553.1,352.4L552.0,355.2M550.7,358.4L549.4,361.1M547.7,364.4L546.1,367.3M544.1,370.4L542.1,373.3M539.7,376.4L537.3,379.3M534.4,382.3L531.5,385.1M528.3,387.9L525.6,390.0M522.3,392.3L519.6,394.0M516.4,395.9L513.6,397.4M510.4,398.8L507.5,400.1M504.2,401.3L501.6,402.1M498.3,403.1L495.7,403.7M492.3,404.4L489.6,404.8M486.4,405.1L483.7,405.4M480.2,405.5L477.5,405.5M474.3,405.4L471.6,405.1M468.4,404.8L465.5,404.3M462.3,403.7L459.5,403.0M456.4,402.1L453.5,401.2M450.3,400.0L447.6,398.8M444.4,397.4L441.6,395.9M438.4,394.0L435.5,392.1M432.4,390.0L429.5,387.7M426.3,384.9L423.6,382.3M420.6,379.1L418.2,376.2M415.7,373.1L413.8,370.2M411.8,367.0L410.2,364.2M408.6,361.1L407.2,358.2M405.9,354.9L404.9,352.4M403.9,349.0L403.1,346.4M402.3,343.0L401.8,340.3M401.3,337.1L400.9,334.4M400.7,331.1L400.5,328.4M400.5,325.1L400.6,322.4M400.8,319.1L401.1,316.4M401.6,312.9L402.1,310.2M402.8,307.1L403.5,304.4M404.5,301.1L405.4,298.2M406.7,295.0L407.9,292.2M409.5,289.1L411.0,286.2M412.9,283.0L414.7,280.3M417.1,277.1L419.4,274.2M422.2,271.1L425.0,268.3M428.2,265.4L431.0,263.1M434.2,260.7L436.9,258.9M440.3,256.8L442.9,255.4M446.2,253.8L448.9,252.6M452.2,251.3L455.0,250.3M458.3,249.3L460.9,248.6M464.3,247.9L467.0,247.4M470.1,247.0L473.1,246.7M476.3,246.5L479.0,246.5M479.0,164.5L482.0,164.5M485.2,164.6L487.9,164.8M491.1,165.0L493.8,165.2M497.2,165.6L499.9,165.9M503.1,166.4L505.8,166.8M509.2,167.4L511.9,168.0M515.2,168.7L517.9,169.4M521.2,170.3L523.8,171.0M527.1,172.0L530.0,173.0M533.2,174.1L536.0,175.2M539.2,176.4L541.9,177.6M545.1,179.0L547.8,180.3M551.1,181.9L554.0,183.4M557.2,185.2L560.0,186.9M563.2,188.8L565.9,190.6M569.2,192.8L572.0,194.8M575.2,197.2L577.9,199.3M581.2,202.0L584.0,204.4M587.1,207.3L590.0,210.0M593.1,213.2L595.7,215.9M598.5,219.0L600.9,221.9M603.6,225.2L605.7,227.9M608.1,231.1L610.1,234.0M612.2,237.1L613.9,239.8M615.8,243.0L617.5,245.8M619.3,249.1L620.8,252.0M622.3,255.1L623.6,257.8M625.1,261.2L626.3,264.0M627.6,267.2L628.5,269.8M629.7,273.1L630.6,276.0M631.6,279.1L632.4,281.9M633.3,285.1L634.0,288.0M634.7,291.1L635.3,293.8M635.9,297.0L636.4,300.0M636.9,303.2L637.3,305.9M637.6,309.2L637.9,311.9M638.1,315.1L638.3,317.9M638.4,321.1L638.5,323.9M638.5,327.1L638.5,329.9M638.3,333.1L638.2,335.9M638.0,339.1L637.7,341.9M637.4,345.1L637.0,347.8M636.6,351.0L636.1,354.0M635.5,357.2L635.0,359.9M634.2,363.1L633.5,366.0M632.7,369.1L631.9,372.0M631.0,375.1L630.0,377.9M628.9,381.2L627.9,383.8M626.7,387.1L625.5,389.8M624.1,393.0L622.7,396.0M621.2,399.1L619.7,402.0M618.1,405.1L616.5,407.9M614.6,411.1L612.8,413.9M610.6,417.2L608.8,419.9M606.5,423.1L604.4,425.9M601.7,429.2L599.5,431.8M596.5,435.2L594.0,437.9M590.9,441.1L588.0,443.9M584.9,446.8L582.1,449.2M578.9,451.9L576.2,454.1M572.8,456.6L570.0,458.7M566.9,460.8L564.0,462.7M560.8,464.6L558.1,466.3M554.8,468.1L552.0,469.6M548.9,471.2L546.0,472.6M542.9,474.0L540.1,475.2M536.9,476.5L534.1,477.5M530.9,478.7L528.1,479.7M524.8,480.7L522.2,481.5M518.8,482.4L516.2,483.0M512.8,483.8L510.2,484.4M506.8,485.0L504.1,485.5M500.9,486.0L498.2,486.3M494.8,486.7L492.1,487.0M488.9,487.2L486.2,487.3M483.0,487.5L480.0,487.5M476.8,487.5L474.1,487.4M470.9,487.3L468.1,487.1M464.9,486.9L462.0,486.6M458.8,486.2L456.1,485.8M452.9,485.3L450.0,484.8M446.9,484.2L444.0,483.6M440.8,482.8L438.0,482.1M434.9,481.2L432.0,480.3M428.7,479.3L426.2,478.4M422.9,477.2L420.2,476.1M417.0,474.8L414.0,473.5M410.9,472.0L408.0,470.6M404.9,469.0L402.1,467.5M398.9,465.6L396.1,464.0M393.0,462.0L390.1,460.1M386.8,457.8L384.0,455.7M380.9,453.3L378.0,451.0M374.9,448.4L372.0,445.8M368.9,442.9L366.1,440.1M363.0,436.8L360.5,434.1M357.7,430.9L355.3,428.0M352.9,424.9L350.8,422.1M348.5,418.8L346.7,416.2M344.5,412.8L342.8,410.0M340.9,406.8L339.3,404.0M337.7,400.9L336.2,398.0M334.7,394.9L333.5,392.1M332.1,388.9L331.0,386.2M329.7,382.9L328.7,380.1M327.6,376.8L326.8,374.1M325.8,370.8L325.0,368.1M324.2,364.8L323.5,362.1M322.8,358.9L322.3,356.0M321.7,352.8L321.3,350.0M320.8,346.8L320.5,344.1M320.2,340.9L319.9,338.1M319.7,334.9L319.6,332.1M319.5,328.9L319.5,326.1M319.5,322.9L319.6,320.1M319.8,316.9L319.9,314.1M320.2,310.9L320.5,308.2M320.9,304.9L321.3,302.0M321.8,298.7L322.3,296.0M322.9,292.9L323.5,290.2M324.3,286.8L325.0,284.1M325.9,280.7L326.7,278.1M327.7,274.8L328.6,272.2M329.8,268.9L330.9,266.1M332.2,262.8L333.4,260.1M334.8,256.9L336.2,254.0M337.8,250.9L339.3,248.0M341.2,244.7L342.7,242.2M344.8,238.8L346.5,236.1M348.8,232.8L350.6,230.1M353.0,226.9L355.3,224.0M357.9,220.9L360.3,218.1M363.3,214.8L365.9,212.1M369.1,209.0L372.0,206.2M375.1,203.4L378.0,201.0M381.1,198.5L384.0,196.3M387.2,193.9L389.9,192.1M393.2,189.9L395.9,188.2M399.1,186.2L401.9,184.6M405.1,182.9L408.0,181.4M411.1,179.9L414.0,178.5M417.2,177.1L419.9,176.0M423.2,174.7L425.9,173.7M429.2,172.6L432.0,171.7M435.1,170.7L438.0,169.9M441.1,169.1L444.0,168.4M447.1,167.8L450.0,167.2M453.2,166.6L455.9,166.2M459.3,165.7L462.0,165.4M465.2,165.1L467.9,164.9M471.1,164.7L473.8,164.6M477.3,164.5L479.0,164.5M479.0,76.5L482.0,76.5M485.2,76.6L487.9,76.7M491.1,76.8L493.8,77.0M497.0,77.2L500.0,77.4M503.2,77.7L505.9,78.0M509.1,78.4L511.8,78.7M515.2,79.2L517.9,79.6M521.0,80.2L524.0,80.7M527.1,81.3L529.8,81.8M533.1,82.6L535.8,83.2M539.2,84.0L541.8,84.7M545.1,85.6L548.0,86.5M551.0,87.4L553.9,88.3M557.2,89.4L560.0,90.3M563.2,91.5L565.8,92.5M569.0,93.7L572.0,94.9M575.2,96.3L577.9,97.5M581.1,98.9L584.0,100.3M587.1,101.8L590.0,103.2M593.0,104.8L595.9,106.3M599.1,108.1L601.9,109.7M605.1,111.6L607.9,113.3M611.0,115.3L613.9,117.2M617.0,119.3L619.9,121.3M623.1,123.6L625.9,125.6M629.0,128.0L632.0,130.3M635.0,132.9L637.9,135.2M641.1,138.0L643.8,140.5M647.1,143.5L650.0,146.3M653.2,149.4L655.8,152.1M658.8,155.4L661.4,158.1M664.2,161.3L666.6,164.1M669.3,167.4L671.5,170.1M674.1,173.4L676.1,176.2M678.5,179.4L680.4,182.1M682.6,185.4L684.4,188.1M686.6,191.4L688.3,194.2M690.2,197.4L691.9,200.2M693.7,203.4L695.3,206.3M696.9,209.3L698.4,212.2M699.9,215.4L701.2,218.1M702.8,221.4L704.0,224.2M705.4,227.4L706.6,230.1M707.9,233.4L709.0,236.2M710.2,239.5L711.1,242.0M712.3,245.3L713.2,248.2M714.2,251.3L715.1,254.1M716.0,257.5L716.8,260.2M717.6,263.3L718.3,266.2M719.1,269.4L719.7,272.0M720.4,275.5L720.9,278.2M721.5,281.4L722.0,284.1M722.5,287.3L723.0,290.2M723.4,293.5L723.7,296.2M724.1,299.4L724.4,302.2M724.7,305.4L724.9,308.1M725.1,311.4L725.2,314.1M725.4,317.4L725.4,320.1M725.5,323.4L725.5,326.1M725.5,329.4L725.4,332.1M725.3,335.4L725.2,338.1M725.0,341.4L724.8,344.1M724.6,347.4L724.3,350.1M724.0,353.3L723.7,356.1M723.3,359.3L722.9,362.2M722.4,365.5L722.0,368.2M721.4,371.4L720.9,374.1M720.2,377.5L719.6,380.2M718.9,383.4L718.3,386.0M717.4,389.4L716.7,392.1M715.8,395.5L715.0,398.1M714.0,401.4L713.1,404.1M712.0,407.4L711.0,410.2M709.9,413.5L708.9,416.1M707.6,419.3L706.5,422.1M705.1,425.3L703.9,428.1M702.4,431.5L701.1,434.2M699.6,437.3L698.2,440.2M696.5,443.3L695.0,446.2M693.2,449.4L691.6,452.3M689.8,455.3L688.0,458.3M686.0,461.4L684.3,464.1M682.1,467.4L680.2,470.1M677.9,473.4L675.9,476.2M673.4,479.3L671.3,482.1M668.6,485.4L666.3,488.3M663.7,491.3L661.0,494.2M658.2,497.4L655.4,500.2M652.3,503.4L649.6,506.1M646.4,509.1L643.5,511.8M640.3,514.6L637.5,517.1M634.3,519.8L631.6,522.0M628.4,524.4L625.5,526.7M622.3,529.0L619.7,530.9M616.4,533.1L613.5,535.1M610.4,537.1L607.7,538.8M604.3,540.9L601.5,542.5M598.3,544.3L595.7,545.8M592.4,547.5L589.5,549.0M586.4,550.6L583.5,552.0M580.4,553.4L577.7,554.6M574.3,556.1L571.5,557.3M568.3,558.5L565.5,559.6M562.3,560.8L559.5,561.8M556.2,562.9L553.6,563.8M550.3,564.8L547.5,565.7M544.4,566.6L541.5,567.3M538.4,568.1L535.6,568.8M532.4,569.6L529.5,570.2M526.4,570.8L523.5,571.4M520.3,572.0L517.6,572.4M514.4,572.9L511.5,573.3M508.3,573.7L505.6,574.0M502.4,574.4L499.5,574.6M496.3,574.9L493.6,575.1M490.4,575.2L487.6,575.3M484.4,575.4L481.5,575.5M478.3,575.5L475.5,575.5M472.3,575.4L469.6,575.3M466.4,575.2L463.7,575.0M460.2,574.8L457.5,574.6M454.3,574.2L451.6,574.0M448.4,573.6L445.5,573.2M442.3,572.7L439.6,572.3M436.2,571.7L433.6,571.2M430.4,570.6L427.5,570.0M424.4,569.3L421.5,568.6M418.4,567.8L415.5,567.1M412.4,566.2L409.6,565.4M406.2,564.4L403.7,563.6M400.4,562.5L397.6,561.5M394.3,560.3L391.5,559.3M388.3,558.0L385.6,556.9M382.4,555.5L379.6,554.3M376.3,552.8L373.6,551.5M370.5,550.0L367.6,548.6M364.3,546.8L361.7,545.4M358.4,543.6L355.6,542.0M352.4,540.1L349.5,538.3M346.4,536.3L343.7,534.5M340.4,532.3L337.5,530.3M334.3,528.0L331.5,525.9M328.4,523.5L325.7,521.3M322.4,518.7L319.5,516.3M316.4,513.5L313.6,511.0M310.3,507.9L307.5,505.2M304.3,502.0L301.7,499.3M298.7,496.1L296.1,493.3M293.4,490.1L290.9,487.3M288.3,484.0L286.1,481.3M283.6,478.2L281.6,475.4M279.2,472.1L277.2,469.3M275.0,466.0L273.2,463.3M271.2,460.2L269.5,457.4M267.4,454.0L265.9,451.4M264.1,448.1L262.5,445.3M260.8,442.0L259.4,439.3M257.7,436.0L256.4,433.3M255.0,430.1L253.8,427.4M252.4,424.2L251.2,421.4M249.9,418.1L248.9,415.4M247.6,412.1L246.6,409.3M245.6,406.2L244.6,403.3M243.6,400.0L242.8,397.4M241.8,394.0L241.1,391.4M240.2,388.0L239.6,385.3M238.8,382.1L238.2,379.2M237.5,376.0L237.0,373.3M236.4,370.1L235.9,367.4M235.4,364.0L235.0,361.3M234.5,358.0L234.2,355.3M233.9,352.1L233.6,349.3M233.3,346.1L233.1,343.4M232.9,340.1L232.8,337.4M232.6,334.1L232.6,331.4M232.5,328.1L232.5,325.4M232.5,322.1L232.6,319.4M232.7,316.1L232.8,313.4M233.0,310.1L233.2,307.4M233.4,304.2L233.7,301.4M234.0,298.2L234.4,295.2M234.8,292.0L235.2,289.3M235.7,286.0L236.1,283.3M236.7,280.1L237.2,277.4M237.9,274.0L238.5,271.3M239.2,268.2L239.9,265.2M240.7,262.1L241.4,259.4M242.4,256.1L243.2,253.4M244.2,250.1L245.1,247.2M246.1,244.2L247.1,241.3M248.3,238.0L249.4,235.2M250.7,232.0L251.8,229.2M253.2,226.0L254.4,223.3M255.8,220.1L257.1,217.4M258.7,214.0L260.1,211.3M261.8,208.0L263.2,205.4M265.0,202.1L266.6,199.3M268.6,196.1L270.2,193.3M272.2,190.2L274.1,187.2M276.2,184.1L278.2,181.3M280.5,178.0L282.6,175.2M285.0,172.1L287.2,169.3M289.8,166.0L292.1,163.4M294.8,160.2L297.5,157.2M300.3,154.1L303.1,151.2M306.2,148.0L309.1,145.3M312.1,142.4L315.1,139.7M318.2,136.9L321.1,134.4M324.1,131.9L327.0,129.6M330.1,127.1L332.9,125.0M336.1,122.7L338.9,120.7M342.2,118.4L344.9,116.6M348.2,114.5L351.0,112.8M354.1,110.9L356.9,109.2M360.2,107.4L363.0,105.9M366.3,104.1L368.9,102.8M372.2,101.1L374.9,99.8M378.3,98.3L381.0,97.1M384.2,95.7L386.9,94.6M390.1,93.3L392.9,92.2M396.2,91.0L399.0,90.0M402.2,88.9L405.1,88.0M408.1,87.0L411.0,86.2M414.3,85.2L416.9,84.5M420.3,83.7L422.9,83.0M426.3,82.3L429.0,81.7M432.1,81.1L435.0,80.5M438.2,79.9L440.9,79.5M444.3,79.0L447.0,78.6M450.2,78.2L452.9,77.9M456.3,77.6L459.0,77.3M462.2,77.1L464.9,76.9M468.1,76.7L470.8,76.6M474.3,76.5L477.0,76.5M689.0,50.2L691.9,52.5M695.0,55.0L697.9,57.4M701.1,60.1L703.9,62.6M707.1,65.4L710.0,68.1M713.1,70.9L715.9,73.7M719.1,76.8L721.9,79.6M725.1,82.8L727.6,85.5M730.7,88.8L733.2,91.6M736.0,94.7L738.4,97.5M741.1,100.8L743.5,103.6M746.0,106.7L748.3,109.7M750.7,112.8L752.8,115.6M755.2,118.8L757.2,121.6M759.4,124.7L761.4,127.5M763.6,130.8L765.4,133.5M767.4,136.7L769.3,139.6M771.2,142.8L772.9,145.6M774.8,148.8L776.4,151.6M778.2,154.9L779.7,157.5M781.4,160.8L782.9,163.6M784.5,166.7L786.0,169.6M787.5,172.8L788.8,175.5M790.4,178.9L791.6,181.6M793.0,184.8L794.2,187.5M795.6,190.8L796.7,193.5M798.0,196.8L799.1,199.6M800.3,202.8L801.4,205.6M802.5,208.7L803.4,211.5M804.6,214.8L805.4,217.5M806.5,220.8L807.4,223.6M808.3,226.8L809.1,229.6M810.0,232.8L810.8,235.7M811.6,238.8L812.2,241.5M813.1,244.9L813.7,247.5M814.4,250.7L815.0,253.6M815.7,256.8L816.2,259.5M816.8,262.7L817.3,265.4M817.9,268.9L818.3,271.6M818.8,274.8L819.2,277.5M819.6,280.7L819.9,283.5M820.3,286.7L820.6,289.4M820.9,292.7L821.2,295.7M821.5,298.9L821.7,301.6M821.9,304.9L822.0,307.6M822.2,310.9L822.3,313.6M822.4,316.9L822.4,319.6M822.5,322.9L822.5,325.6M822.5,328.9L822.5,331.6M822.4,334.9L822.3,337.6M822.2,340.9L822.1,343.6M821.9,346.9L821.7,349.6M821.5,352.9L821.3,355.6M821.0,358.8L820.7,361.6M820.4,364.8L820.1,367.5M819.7,370.8L819.3,373.5M818.8,376.7L818.4,379.7M817.9,382.9L817.4,385.6M816.9,388.8L816.4,391.5M815.8,394.7L815.2,397.6M814.5,400.8L813.9,403.5M813.1,406.9L812.5,409.6M811.7,412.7L810.9,415.6M810.1,418.8L809.3,421.6M808.4,424.8L807.6,427.6M806.6,430.7L805.7,433.6M804.7,436.7L803.8,439.5M802.6,442.8L801.6,445.7M800.5,448.7L799.5,451.5M798.2,454.8L797.1,457.5M795.8,460.8L794.6,463.5M793.2,466.7L792.0,469.5M790.6,472.7L789.2,475.6M787.7,478.8L786.4,481.5M784.8,484.8L783.4,487.5M781.7,490.8L780.1,493.6M778.5,496.7L776.9,499.5M775.0,502.8L773.4,505.6M771.5,508.8L769.8,511.5M767.8,514.7L765.9,517.6M763.9,520.7L761.9,523.6M759.8,526.7L757.8,529.6M755.5,532.8L753.4,535.6M751.0,538.8L748.9,541.6M746.5,544.7L744.1,547.6M741.4,550.9L739.2,553.5M736.4,556.7L734.0,559.5M731.0,562.8L728.5,565.6M725.4,568.8L722.8,571.5M719.7,574.7L716.8,577.5M713.6,580.6L710.7,583.3M707.6,586.1L704.8,588.6M701.7,591.4L698.8,593.8M695.6,596.5L692.7,598.8M689.6,601.3L686.7,603.6M683.5,606.0L680.7,608.1M677.5,610.4L674.7,612.4M671.5,614.7L668.8,616.5M665.5,618.7L662.8,620.4M659.5,622.5L656.7,624.2M653.6,626.2L650.8,627.8M647.6,629.6L644.8,631.2M641.5,633.0L638.7,634.5M635.6,636.2L632.8,637.6M629.5,639.3L626.8,640.6M623.5,642.2L620.8,643.4M617.6,644.9L614.7,646.2M611.5,647.5L608.8,648.7M605.6,650.0L602.8,651.1M599.6,652.3L596.8,653.4M593.6,654.5L590.8,655.5M587.5,656.7L584.7,657.6M581.6,658.6L578.8,659.5M575.5,660.5L572.7,661.3M569.6,662.2L566.7,662.9M563.6,663.8L560.8,664.5M557.6,665.2L554.8,665.9M551.6,666.6L548.7,667.2M545.6,667.9L542.7,668.5M539.6,669.0L536.9,669.5M533.5,670.1L530.8,670.5M527.6,671.0L524.7,671.4M521.5,671.8L518.8,672.1M515.6,672.5L512.7,672.8M509.5,673.1L506.8,673.4M503.6,673.6L500.7,673.8M497.5,674.0L494.8,674.1M491.6,674.3L488.9,674.4M485.7,674.4L482.7,674.5M479.5,674.5L476.8,674.5M473.6,674.5L470.9,674.4M467.4,674.3L464.7,674.2M461.5,674.0L458.8,673.9M455.6,673.7L452.9,673.5M449.5,673.2L446.8,673.0M443.6,672.6L440.9,672.3M437.5,671.9L434.8,671.6M431.6,671.2L428.7,670.7M425.5,670.2L422.8,669.8M419.4,669.2L416.8,668.7M413.6,668.1L410.7,667.5M407.6,666.9L404.7,666.2M401.6,665.5L398.7,664.8M395.6,664.1L392.7,663.3M389.6,662.5L386.7,661.7M383.4,660.7L380.8,660.0M377.5,658.9L374.7,658.0M371.7,657.0L368.9,656.1M365.6,655.0L362.8,654.0M359.6,652.8L356.8,651.7M353.6,650.4L350.8,649.3M347.6,648.0L344.7,646.8M341.5,645.4L338.8,644.2M335.4,642.6L332.8,641.3M329.6,639.8L326.8,638.4M323.5,636.7L320.8,635.4M317.6,633.6L314.7,632.1M311.5,630.3L308.7,628.7M305.5,626.8L302.8,625.1M299.6,623.2L296.9,621.5M293.5,619.3L290.8,617.6M287.6,615.4L284.7,613.4M281.5,611.1L278.9,609.2M275.5,606.7L272.7,604.6M269.6,602.2L266.8,600.1M263.6,597.4L260.7,595.1M257.7,592.5L254.8,590.1M251.5,587.1L248.7,584.6M245.7,581.7L242.8,579.0M239.6,575.9L236.8,573.1M233.6,569.9L230.9,567.0M228.0,563.9L225.3,561.0M222.5,557.8L220.1,555.0M217.4,551.8L215.1,549.1M212.5,545.8L210.3,543.1M207.9,540.0L205.6,537.0M203.2,533.8L201.3,531.2M199.0,527.9L197.1,525.1M195.0,522.0L193.0,519.1M191.0,515.9L189.1,513.0M187.2,509.8L185.5,507.1M183.6,503.8L182.0,501.0M180.1,497.8L178.7,495.2M176.9,491.9L175.4,489.0M173.8,485.9L172.3,483.0M170.8,479.9L169.5,477.2M167.9,473.8L166.7,471.1M165.3,467.9L164.1,465.1M162.7,461.9L161.6,459.2M160.3,455.9L159.2,453.1M157.9,449.9L156.9,447.1M155.7,443.8L154.8,441.2M153.7,437.9L152.7,435.0M151.8,431.9L150.9,429.1M149.9,426.0L149.1,423.1M148.2,420.0L147.4,417.1M146.6,413.9L145.9,411.0M145.1,407.9L144.5,405.2M143.7,401.8L143.1,399.1M142.5,395.9L141.9,393.2M141.3,389.8L140.8,387.1M140.3,383.9L139.8,381.1M139.3,377.9L138.9,375.2M138.5,371.7L138.1,369.0M137.7,365.8L137.4,363.1M137.1,359.8L136.9,357.1M136.6,353.8L136.4,351.1M136.2,347.9L136.0,345.1M135.9,341.9L135.7,339.1M135.6,335.9L135.6,333.1M135.5,329.9L135.5,327.1M135.5,323.9L135.5,321.1M135.6,317.9L135.7,315.1M135.8,311.9L135.9,309.1M136.1,305.9L136.2,303.1M136.5,299.9L136.7,297.2M137.0,293.9L137.2,291.2M137.6,287.9L137.9,285.2M138.3,282.0L138.6,279.0M139.1,275.8L139.5,273.1M140.0,269.9L140.4,267.2M141.0,264.0L141.5,261.0M142.1,257.8L142.7,255.1M143.3,251.9L144.0,249.0M144.7,245.8L145.3,243.2M146.2,239.8L146.9,237.1M147.7,234.0L148.5,231.1M149.4,228.0L150.2,225.1M151.2,222.0L152.1,219.1M153.1,215.8L154.0,213.2M155.1,209.9L156.1,207.1M157.3,203.8L158.3,201.2M159.5,197.9L160.6,195.2M161.9,191.9L163.1,189.1M164.5,185.9L165.7,183.2M167.2,179.8L168.4,177.1M169.9,173.9L171.2,171.2M172.9,167.9L174.3,165.2M176.0,161.9L177.5,159.0M179.2,156.0L180.7,153.1M182.6,149.9L184.2,147.1M186.1,143.9L187.8,141.1M189.8,137.9L191.7,135.0M193.7,131.9L195.5,129.2M197.8,125.9L199.8,123.0M202.1,119.8L204.1,117.0M206.5,113.8L208.6,111.0M211.1,107.9L213.4,105.0M215.9,101.9L218.3,99.1M221.1,95.8L223.5,93.0M226.3,89.9L228.9,87.2M231.9,83.9L234.7,81.0M237.8,77.9L240.6,75.1M243.9,72.0L246.6,69.4M249.8,66.4L252.6,63.9M255.8,61.1L258.6,58.7M261.8,56.0L264.5,53.8M267.8,51.2L270.5,49.0M848.4,52.8L850.4,55.7M852.7,58.9L854.5,61.6M856.8,64.9L858.6,67.6M860.7,70.9L862.5,73.6M864.5,76.8L866.2,79.5M868.3,82.9L869.9,85.7M871.8,88.9L873.5,91.7M875.2,94.8L876.8,97.6M878.6,100.9L880.1,103.7M881.8,106.8L883.3,109.6M884.9,112.8L886.3,115.6M887.9,118.8L889.3,121.7M890.8,124.8L892.1,127.5M893.7,130.9L894.9,133.7M896.3,136.9L897.5,139.6M898.9,142.8L900.0,145.6M901.4,148.8L902.5,151.6M903.8,154.8L904.8,157.6M906.1,160.9L907.1,163.7M908.3,167.0L909.2,169.6M910.4,172.9L911.4,175.7M912.4,178.8L913.3,181.6M914.4,184.9L915.2,187.6M916.2,190.9L917.0,193.5M918.0,196.9L918.7,199.6M919.6,202.9L920.3,205.6M921.2,209.0L921.9,211.6M922.7,214.8L923.4,217.7M924.1,220.9L924.7,223.5M925.5,424.9L924.9,427.6M924.2,430.8L923.5,433.7M922.8,436.9L922.1,439.5M921.3,442.9L920.6,445.6M919.7,449.0L918.9,451.6M918.0,455.0L917.2,457.6M916.2,461.0L915.4,463.6M914.4,466.9L913.6,469.6M912.5,472.9L911.6,475.7M910.5,478.8L909.5,481.6M908.4,484.9L907.3,487.7M906.2,490.8L905.2,493.6M903.9,496.8L902.8,499.6M901.5,502.9L900.4,505.6M899.0,508.8L897.8,511.6M896.5,514.8L895.2,517.5M893.7,521.0L892.5,523.7M891.0,526.8L889.7,529.5M888.1,532.9L886.7,535.6M885.0,538.9L883.7,541.6M882.0,544.9L880.6,547.5M878.8,550.8L877.2,553.7M875.4,556.9L873.8,559.7M872.0,562.7L870.4,565.5M868.5,568.7L866.7,571.7M864.7,574.9L863.0,577.6M860.9,580.8L859.0,583.7M857.0,586.8L855.0,589.7M852.9,592.8L850.9,595.6M848.6,598.9L846.6,601.7M844.2,604.9L842.2,607.7M839.7,610.9L837.6,613.6M835.0,616.9L832.8,619.6M830.2,622.9L828.0,625.6M825.2,628.8L822.8,631.7M820.0,634.9L817.6,637.6M814.8,640.8L812.1,643.7M809.2,646.8L806.4,649.7M803.3,652.9L800.6,655.7M797.4,658.9L794.6,661.6M791.5,664.6L788.6,667.3M785.4,670.3L782.6,672.8M779.5,675.6L776.7,678.1M773.5,680.8L770.6,683.2M767.4,685.9L764.5,688.3M761.4,690.8L758.5,693.1M755.4,695.5L752.7,697.6M209.5,700.7L206.5,698.5M203.4,696.1L200.6,694.0M197.5,691.5L194.6,689.2M191.4,686.6L188.7,684.3M185.5,681.6L182.6,679.2M179.5,676.4L176.7,674.0M173.4,671.0L170.6,668.5M167.4,665.4L164.7,662.8M161.5,659.7L158.7,656.9M155.5,653.8L152.8,650.9M149.7,647.7L146.9,644.8M144.1,641.7L141.6,638.9M138.8,635.8L136.2,632.8M133.6,629.8L131.2,626.9M128.5,623.7L126.1,620.8M123.6,617.7L121.5,615.0M118.9,611.6L116.7,608.9M114.4,605.7L112.3,602.9M110.0,599.7L107.9,596.8M105.8,593.8L103.8,590.9M101.6,587.6L99.8,584.9M97.6,581.6L95.8,578.9M93.8,575.7L92.1,573.0M90.0,569.6L88.4,566.8M86.5,563.6L84.8,560.8M83.1,557.8L81.5,555.0M79.7,551.7L78.2,548.8M76.5,545.8L75.0,542.9M73.3,539.6L71.9,536.9M70.4,533.8L69.0,530.9M67.5,527.7L66.1,524.8M64.6,521.6L63.4,518.9M61.9,515.7L60.7,513.0M59.4,509.8L58.2,507.0M56.9,503.8L55.8,501.0M54.5,497.8L53.4,495.0M52.1,491.7L51.1,488.9M49.9,485.6L48.9,482.8M47.8,479.7L46.8,476.9M45.7,473.6L44.9,471.0M43.8,467.6L43.0,465.0M42.0,461.7L41.1,458.8M40.2,455.7L39.4,452.8M39.8,197.6L40.6,195.0M41.6,191.6L42.4,189.0M43.4,185.7L44.3,182.8M45.3,179.7L46.2,176.9M47.4,173.6L48.3,171.0M49.4,167.7L50.4,164.9M51.7,161.6L52.6,159.0M53.9,155.8L55.0,153.0M56.3,149.7L57.4,146.9M58.7,143.7L59.9,141.0M61.3,137.8L62.6,134.8M64.0,131.6L65.3,128.9M66.8,125.7L68.2,122.8M69.7,119.7L71.0,117.0M72.7,113.6L74.0,111.0M75.8,107.7L77.3,104.8M78.9,101.7L80.5,98.9M82.3,95.6L83.9,92.8M85.6,89.8L87.3,87.0M89.3,83.6L91.0,80.8M93.0,77.6L94.7,74.9M96.7,71.8L98.6,68.8M100.7,65.7L102.6,62.8M104.7,59.7L106.7,56.9M109.0,53.6L111.0,50.8M478.5,405.0L478.5,407.8M478.5,411.1L478.5,413.8M478.5,417.1L478.5,419.9M478.5,423.2L478.5,425.9M478.5,429.2L478.5,432.0M478.5,435.0L478.5,437.8M478.5,441.1L478.5,443.8M478.5,447.1L478.5,449.9M478.5,453.2L478.5,456.0M478.5,459.2L478.5,461.8M478.5,465.0L478.5,467.8M478.5,471.1L478.5,473.9M478.5,477.1L478.5,479.9M478.5,483.2L478.5,486.0M478.5,489.3L478.5,491.8M478.5,495.1L478.5,497.8M478.5,501.1L478.5,503.9M478.5,507.2L478.5,509.9M478.5,513.2L478.5,516.0M478.5,519.0L478.5,521.8M478.5,525.1L478.5,527.8M478.5,531.1L478.5,533.9M478.5,537.2L478.5,540.0M478.5,543.2L478.5,545.8M478.5,549.0L478.5,551.8M478.5,555.1L478.5,557.9M478.5,561.1L478.5,563.9M478.5,567.2L478.5,570.0M478.5,573.3L478.5,575.8M478.5,579.1L478.5,581.8M478.5,585.1L478.5,587.9M478.5,591.2L478.5,593.9M478.5,597.2L478.5,600.0M478.5,603.0L478.5,605.8M478.5,609.1L478.5,611.8M478.5,615.1L478.5,617.9M478.5,621.2L478.5,624.0M478.5,627.2L478.5,629.8M478.5,633.0L478.5,635.8M478.5,639.1L478.5,641.9M478.5,645.1L478.5,647.9M478.5,651.2L478.5,654.0M478.5,657.2L478.5,659.8M478.5,663.1L478.5,665.8M478.5,669.1L478.5,671.9M478.5,675.2L478.5,677.9M478.5,681.2L478.5,684.0M478.5,687.0L478.5,689.8M478.5,693.1L478.5,695.8M517.8,394.3L519.4,397.2M521.2,400.5L522.9,403.3M524.6,406.4L526.2,409.2M528.1,412.5L529.8,415.3M531.5,418.4L533.1,421.2M535.0,424.5L536.6,427.3M538.4,430.4L540.0,433.2M541.9,436.5L543.4,439.1M545.2,442.4L546.9,445.2M548.8,448.5L550.2,451.1M552.1,454.4L553.8,457.3M555.6,460.5L557.1,463.2M559.0,466.4L560.6,469.3M562.5,472.6L564.0,475.2M565.9,478.5L567.5,481.3M569.2,484.4L570.9,487.2M572.8,490.5L574.4,493.3M576.1,496.4L577.8,499.2M579.6,502.5L581.2,505.3M583.0,508.4L584.6,511.2M586.5,514.5L588.1,517.3M589.9,520.4L591.5,523.2M593.4,526.5L594.9,529.1M596.8,532.4L598.4,535.3M600.2,538.5L601.8,541.2M603.6,544.4L605.2,547.3M607.1,550.5L608.6,553.2M610.5,556.4L612.1,559.3M614.0,562.6L615.5,565.2M617.4,568.5L619.0,571.3M620.8,574.4L622.4,577.2M624.2,580.5L625.9,583.3M627.6,586.4L629.2,589.2M631.1,592.5L632.8,595.3M634.5,598.4L636.1,601.2M638.0,604.5L639.6,607.3M641.4,610.4L643.0,613.2M644.9,616.5L646.4,619.1M648.2,622.4L649.9,625.3M651.8,628.5L653.2,631.2M655.1,634.4L656.8,637.3M658.6,640.5L660.1,643.2M662.0,646.4L663.6,649.3M665.5,652.6L667.0,655.2M668.9,658.5L670.5,661.3M672.2,664.4L673.9,667.2M675.8,670.5L677.4,673.3M679.1,676.4L680.8,679.2M682.6,682.5L684.2,685.3M686.0,688.4L687.6,691.2M689.5,694.5L691.1,697.3M546.5,365.2L549.3,366.9M552.5,368.8L555.4,370.4M558.6,372.3L561.4,374.0M564.7,375.8L567.3,377.4M570.5,379.2L573.3,380.9M576.6,382.8L579.4,384.4M582.6,386.3L585.5,388.0M588.5,389.7L591.3,391.4M594.5,393.2L597.4,394.9M600.6,396.8L603.4,398.4M606.7,400.3L609.3,401.8M612.5,403.7L615.3,405.4M618.6,407.2L621.4,408.9M624.6,410.8L627.5,412.4M630.5,414.2L633.3,415.8M636.5,417.7L639.4,419.4M642.6,421.2L645.4,422.9M648.7,424.8L651.3,426.3M654.5,428.2L657.3,429.8M660.6,431.7L663.4,433.4M666.6,435.2L669.5,436.9M672.5,438.7L675.3,440.3M678.6,442.2L681.4,443.8M684.6,445.7L687.4,447.4M690.7,449.2L693.3,450.8M696.5,452.7L699.3,454.3M702.6,456.2L705.4,457.8M708.6,459.7L711.5,461.4M714.5,463.1L717.3,464.8M720.6,466.7L723.4,468.3M726.6,470.2L729.4,471.8M732.7,473.7L735.3,475.2M738.5,477.1L741.3,478.8M744.6,480.7L747.4,482.3M750.6,484.2L753.5,485.8M756.5,487.6L759.3,489.2M762.6,491.1L765.4,492.8M768.6,494.7L771.4,496.3M774.7,498.2L777.3,499.7M780.5,501.6L783.3,503.2M786.6,505.1L789.4,506.8M792.7,508.7L795.5,510.3M798.5,512.1L801.3,513.7M804.6,515.6L807.4,517.2M810.6,519.1L813.4,520.8M816.7,522.7L819.3,524.2M822.5,526.1L825.3,527.7M828.6,529.6L831.4,531.2M834.7,533.1L837.5,534.8M840.5,536.5L843.3,538.2M846.6,540.1L849.4,541.7M852.6,543.6L855.4,545.2M858.7,547.1L861.3,548.6M864.5,550.5L867.3,552.2M870.6,554.1L873.4,555.7M876.7,557.6L879.5,559.2M882.5,561.0L885.3,562.6M888.6,564.5L891.4,566.2M894.6,568.1L897.4,569.7M900.7,571.6L903.3,573.1M906.5,575.0L909.3,576.6M912.6,578.5L915.4,580.2M918.7,582.1L921.5,583.7M924.5,585.5L927.3,587.1M557.0,325.5L559.8,325.5M563.0,325.5L565.8,325.5M569.0,325.5L571.8,325.5M575.0,325.5L577.8,325.5M581.0,325.5L583.8,325.5M587.0,325.5L589.8,325.5M593.0,325.5L595.8,325.5M599.0,325.5L601.8,325.5M605.0,325.5L607.8,325.5M611.0,325.5L613.8,325.5M617.0,325.5L619.8,325.5M623.0,325.5L625.8,325.5M629.0,325.5L631.8,325.5M635.0,325.5L637.8,325.5M641.0,325.5L643.8,325.5M647.0,325.5L649.8,325.5M653.0,325.5L655.8,325.5M659.0,325.5L661.8,325.5M665.0,325.5L667.8,325.5M671.0,325.5L673.8,325.5M677.0,325.5L679.8,325.5M683.0,325.5L685.8,325.5M689.0,325.5L691.8,325.5M695.0,325.5L697.8,325.5M701.0,325.5L703.8,325.5M707.0,325.5L709.8,325.5M713.0,325.5L715.8,325.5M719.0,325.5L721.8,325.5M725.0,325.5L727.8,325.5M731.0,325.5L733.8,325.5M737.0,325.5L739.8,325.5M743.0,325.5L745.8,325.5M749.0,325.5L751.8,325.5M755.0,325.5L757.8,325.5M761.0,325.5L763.8,325.5M767.0,325.5L769.8,325.5M773.0,325.5L775.8,325.5M779.0,325.5L781.8,325.5M785.0,325.5L787.8,325.5M791.0,325.5L793.8,325.5M797.0,325.5L799.8,325.5M803.0,325.5L805.8,325.5M809.0,325.5L811.8,325.5M815.0,325.5L817.8,325.5M821.0,325.5L823.8,325.5M827.0,325.5L829.8,325.5M833.0,325.5L835.8,325.5M839.0,325.5L841.8,325.5M845.0,325.5L847.8,325.5M851.0,325.5L853.8,325.5M857.0,325.5L859.8,325.5M863.0,325.5L865.8,325.5M869.0,325.5L871.8,325.5M875.0,325.5L877.8,325.5M881.0,325.5L883.8,325.5M887.0,325.5L889.8,325.5M893.0,325.5L895.8,325.5M899.0,325.5L901.8,325.5M905.0,325.5L907.8,325.5M911.0,325.5L913.8,325.5M917.0,325.5L919.8,325.5M923.0,325.5L925.8,325.5M546.5,285.8L549.3,284.1M552.5,282.2L555.4,280.6M558.6,278.7L561.4,277.0M564.7,275.2L567.3,273.6M570.5,271.8L573.3,270.1M576.6,268.2L579.4,266.6M582.6,264.7L585.5,263.0M588.5,261.3L591.3,259.6M594.5,257.8L597.4,256.1M600.6,254.2L603.4,252.6M606.7,250.7L609.3,249.2M612.5,247.3L615.3,245.6M618.6,243.8L621.4,242.1M624.6,240.2L627.5,238.6M630.5,236.8L633.3,235.2M636.5,233.3L639.4,231.6M642.6,229.8L645.4,228.1M648.7,226.2L651.3,224.7M654.5,222.8L657.3,221.2M660.6,219.3L663.4,217.6M666.6,215.8L669.5,214.1M672.5,212.3L675.3,210.7M678.6,208.8L681.4,207.2M684.6,205.3L687.4,203.6M690.7,201.8L693.3,200.2M696.5,198.3L699.3,196.7M702.6,194.8L705.4,193.2M708.6,191.3L711.5,189.6M714.5,187.9L717.3,186.2M720.6,184.3L723.4,182.7M726.6,180.8L729.4,179.2M732.7,177.3L735.3,175.8M738.5,173.9L741.3,172.2M744.6,170.3L747.4,168.7M750.6,166.8L753.5,165.2M756.5,163.4L759.3,161.8M762.6,159.9L765.4,158.2M768.6,156.3L771.4,154.7M774.7,152.8L777.3,151.3M780.5,149.4L783.3,147.8M786.6,145.9L789.4,144.2M792.7,142.3L795.5,140.7M798.5,138.9L801.3,137.3M804.6,135.4L807.4,133.8M810.6,131.9L813.4,130.2M816.7,128.3L819.3,126.8M822.5,124.9L825.3,123.3M828.6,121.4L831.4,119.8M834.7,117.9L837.5,116.2M840.5,114.5L843.3,112.8M846.6,110.9L849.4,109.3M852.6,107.4L855.4,105.8M858.7,103.9L861.3,102.4M864.5,100.5L867.3,98.8M870.6,96.9L873.4,95.3M876.7,93.4L879.5,91.8M882.5,90.0L885.3,88.4M888.6,86.5L891.4,84.8M894.6,82.9L897.4,81.3M900.7,79.4L903.3,77.9M906.5,76.0L909.3,74.4M912.6,72.5L915.4,70.8M918.7,68.9L921.5,67.3M924.5,65.5L927.3,63.9M517.8,256.7L519.4,253.8M521.2,250.5L522.9,247.7M524.6,244.6L526.2,241.8M528.1,238.5L529.8,235.7M531.5,232.6L533.1,229.8M535.0,226.5L536.6,223.7M538.4,220.6L540.0,217.8M541.9,214.5L543.4,211.9M545.2,208.6L546.9,205.8M548.8,202.5L550.2,199.9M552.1,196.6L553.8,193.7M555.6,190.5L557.1,187.8M559.0,184.6L560.6,181.7M562.5,178.4L564.0,175.8M565.9,172.5L567.5,169.7M569.2,166.6L570.9,163.8M572.8,160.5L574.4,157.7M576.1,154.6L577.8,151.8M579.6,148.5L581.2,145.7M583.0,142.6L584.6,139.8M586.5,136.5L588.1,133.7M589.9,130.6L591.5,127.8M593.4,124.5L594.9,121.9M596.8,118.6L598.4,115.7M600.2,112.5L601.8,109.8M603.6,106.6L605.2,103.7M607.1,100.5L608.6,97.8M610.5,94.6L612.1,91.7M614.0,88.4L615.5,85.8M617.4,82.5L619.0,79.7M620.8,76.6L622.4,73.8M624.2,70.5L625.9,67.7M627.6,64.6L629.2,61.8M631.1,58.5L632.8,55.7M634.5,52.6L636.1,49.8M478.5,246.0L478.5,243.2M478.5,239.9L478.5,237.2M478.5,233.9L478.5,231.1M478.5,227.8L478.5,225.1M478.5,221.8L478.5,219.0M478.5,216.0L478.5,213.2M478.5,209.9L478.5,207.2M478.5,203.9L478.5,201.1M478.5,197.8L478.5,195.0M478.5,191.8L478.5,189.2M478.5,186.0L478.5,183.2M478.5,179.9L478.5,177.1M478.5,173.9L478.5,171.1M478.5,167.8L478.5,165.0M478.5,161.7L478.5,159.2M478.5,155.9L478.5,153.2M478.5,149.9L478.5,147.1M478.5,143.8L478.5,141.1M478.5,137.8L478.5,135.0M478.5,132.0L478.5,129.2M478.5,125.9L478.5,123.2M478.5,119.9L478.5,117.1M478.5,113.8L478.5,111.0M478.5,107.8L478.5,105.2M478.5,102.0L478.5,99.2M478.5,95.9L478.5,93.1M478.5,89.9L478.5,87.1M478.5,83.8L478.5,81.0M478.5,77.7L478.5,75.2M478.5,71.9L478.5,69.2M478.5,65.9L478.5,63.1M478.5,59.8L478.5,57.1M478.5,53.8L478.5,51.0M439.2,256.7L437.6,253.8M435.8,250.5L434.1,247.7M432.4,244.6L430.8,241.8M428.9,238.5L427.2,235.7M425.5,232.6L423.9,229.8M422.0,226.5L420.4,223.7M418.6,220.6L417.0,217.8M415.1,214.5L413.6,211.9M411.8,208.6L410.1,205.8M408.2,202.5L406.8,199.9M404.9,196.6L403.2,193.7M401.4,190.5L399.9,187.8M398.0,184.6L396.4,181.7M394.5,178.4L393.0,175.8M391.1,172.5L389.5,169.7M387.8,166.6L386.1,163.8M384.2,160.5L382.6,157.7M380.9,154.6L379.2,151.8M377.4,148.5L375.8,145.7M374.0,142.6L372.4,139.8M370.5,136.5L368.9,133.7M367.1,130.6L365.5,127.8M363.6,124.5L362.1,121.9M360.2,118.6L358.6,115.7M356.8,112.5L355.2,109.8M353.4,106.6L351.8,103.7M349.9,100.5L348.4,97.8M346.5,94.6L344.9,91.7M343.0,88.4L341.5,85.8M339.6,82.5L338.0,79.7M336.2,76.6L334.6,73.8M332.8,70.5L331.1,67.7M329.4,64.6L327.8,61.8M325.9,58.5L324.2,55.7M322.5,52.6L320.9,49.8M410.5,285.7L407.7,284.1M404.5,282.2L401.6,280.6M398.4,278.7L395.6,277.0M392.3,275.2L389.7,273.6M386.5,271.8L383.7,270.1M380.4,268.2L377.6,266.6M374.4,264.7L371.5,263.0M368.5,261.3L365.7,259.6M362.5,257.8L359.6,256.1M356.4,254.2L353.6,252.6M350.3,250.7L347.7,249.2M344.5,247.3L341.7,245.6M338.4,243.8L335.6,242.1M332.4,240.2L329.5,238.6M326.5,236.8L323.7,235.2M320.5,233.3L317.6,231.6M314.4,229.8L311.6,228.1M308.3,226.2L305.7,224.7M302.5,222.8L299.7,221.2M296.4,219.3L293.6,217.6M290.4,215.8L287.5,214.1M284.5,212.3L281.7,210.7M278.4,208.8L275.6,207.2M272.4,205.3L269.6,203.6M266.3,201.8L263.7,200.2M260.5,198.3L257.7,196.7M254.4,194.8L251.6,193.2M248.4,191.3L245.5,189.6M242.5,187.9L239.7,186.2M236.4,184.3L233.6,182.7M230.4,180.8L227.6,179.2M224.3,177.3L221.7,175.8M218.5,173.9L215.7,172.2M212.4,170.3L209.6,168.7M206.4,166.8L203.5,165.2M200.5,163.4L197.7,161.8M194.4,159.9L191.6,158.2M188.4,156.3L185.6,154.7M182.3,152.8L179.7,151.3M176.5,149.4L173.7,147.8M170.4,145.9L167.6,144.2M164.3,142.3L161.5,140.7M158.5,138.9L155.7,137.3M152.4,135.4L149.6,133.8M146.4,131.9L143.6,130.2M140.3,128.3L137.7,126.8M134.5,124.9L131.7,123.3M128.4,121.4L125.6,119.8M122.3,117.9L119.5,116.2M116.5,114.5L113.7,112.8M110.4,110.9L107.6,109.3M104.4,107.4L101.6,105.8M98.3,103.9L95.7,102.4M92.5,100.5L89.7,98.8M86.4,96.9L83.6,95.3M80.3,93.4L77.5,91.8M74.5,90.0L71.7,88.4M68.4,86.5L65.6,84.8M62.4,82.9L59.6,81.3M56.3,79.4L53.7,77.9M50.5,76.0L47.7,74.4M44.4,72.5L41.6,70.8M400.0,325.5L397.2,325.5M394.0,325.5L391.2,325.5M388.0,325.5L385.2,325.5M382.0,325.5L379.2,325.5M376.0,325.5L373.2,325.5M370.0,325.5L367.2,325.5M364.0,325.5L361.2,325.5M358.0,325.5L355.2,325.5M352.0,325.5L349.2,325.5M346.0,325.5L343.2,325.5M340.0,325.5L337.2,325.5M334.0,325.5L331.2,325.5M328.0,325.5L325.2,325.5M322.0,325.5L319.2,325.5M316.0,325.5L313.2,325.5M310.0,325.5L307.2,325.5M304.0,325.5L301.2,325.5M298.0,325.5L295.2,325.5M292.0,325.5L289.2,325.5M286.0,325.5L283.2,325.5M280.0,325.5L277.2,325.5M274.0,325.5L271.2,325.5M268.0,325.5L265.2,325.5M262.0,325.5L259.2,325.5M256.0,325.5L253.2,325.5M250.0,325.5L247.2,325.5M244.0,325.5L241.2,325.5M238.0,325.5L235.2,325.5M232.0,325.5L229.2,325.5M226.0,325.5L223.2,325.5M220.0,325.5L217.2,325.5M214.0,325.5L211.2,325.5M208.0,325.5L205.2,325.5M202.0,325.5L199.2,325.5M196.0,325.5L193.2,325.5M190.0,325.5L187.2,325.5M184.0,325.5L181.2,325.5M178.0,325.5L175.2,325.5M172.0,325.5L169.2,325.5M166.0,325.5L163.2,325.5M160.0,325.5L157.2,325.5M154.0,325.5L151.2,325.5M148.0,325.5L145.2,325.5M142.0,325.5L139.2,325.5M136.0,325.5L133.2,325.5M130.0,325.5L127.2,325.5M124.0,325.5L121.2,325.5M118.0,325.5L115.2,325.5M112.0,325.5L109.2,325.5M106.0,325.5L103.2,325.5M100.0,325.5L97.2,325.5M94.0,325.5L91.2,325.5M88.0,325.5L85.2,325.5M82.0,325.5L79.2,325.5M76.0,325.5L73.2,325.5M70.0,325.5L67.2,325.5M64.0,325.5L61.2,325.5M58.0,325.5L55.2,325.5M52.0,325.5L49.2,325.5M46.0,325.5L43.2,325.5M40.0,325.5L37.2,325.5M410.5,365.2L407.7,366.9M404.5,368.8L401.6,370.4M398.4,372.3L395.6,374.0M392.3,375.8L389.7,377.4M386.5,379.2L383.7,380.9M380.4,382.8L377.6,384.4M374.4,386.3L371.5,388.0M368.5,389.7L365.7,391.4M362.5,393.2L359.6,394.9M356.4,396.8L353.6,398.4M350.3,400.3L347.7,401.8M344.5,403.7L341.7,405.4M338.4,407.2L335.6,408.9M332.4,410.8L329.5,412.4M326.5,414.2L323.7,415.8M320.5,417.7L317.6,419.4M314.4,421.2L311.6,422.9M308.3,424.8L305.7,426.3M302.5,428.2L299.7,429.8M296.4,431.7L293.6,433.4M290.4,435.2L287.5,436.9M284.5,438.7L281.7,440.3M278.4,442.2L275.6,443.8M272.4,445.7L269.6,447.4M266.3,449.2L263.7,450.8M260.5,452.7L257.7,454.3M254.4,456.2L251.6,457.8M248.4,459.7L245.5,461.4M242.5,463.1L239.7,464.8M236.4,466.7L233.6,468.3M230.4,470.2L227.6,471.8M224.3,473.7L221.7,475.2M218.5,477.1L215.7,478.8M212.4,480.7L209.6,482.3M206.4,484.2L203.5,485.8M200.5,487.6L197.7,489.2M194.4,491.1L191.6,492.8M188.4,494.7L185.6,496.3M182.3,498.2L179.7,499.7M176.5,501.6L173.7,503.2M170.4,505.1L167.6,506.8M164.3,508.7L161.5,510.3M158.5,512.1L155.7,513.7M152.4,515.6L149.6,517.2M146.4,519.1L143.6,520.8M140.3,522.7L137.7,524.2M134.5,526.1L131.7,527.7M128.4,529.6L125.6,531.2M122.3,533.1L119.5,534.8M116.5,536.5L113.7,538.2M110.4,540.1L107.6,541.7M104.4,543.6L101.6,545.2M98.3,547.1L95.7,548.6M92.5,550.5L89.7,552.2M86.4,554.1L83.6,555.7M80.3,557.6L77.5,559.2M74.5,561.0L71.7,562.6M68.4,564.5L65.6,566.2M62.4,568.1L59.6,569.7M56.3,571.6L53.7,573.1M50.5,575.0L47.7,576.6M44.4,578.5L41.6,580.2M439.2,394.3L437.6,397.2M435.7,400.5L434.1,403.3M432.4,406.4L430.7,409.2M428.9,412.5L427.2,415.3M425.5,418.4L423.9,421.2M422.0,424.5L420.4,427.3M418.6,430.4L417.0,433.2M415.1,436.5L413.6,439.1M411.7,442.4L410.1,445.2M408.2,448.5L406.7,451.1M404.9,454.4L403.2,457.3M401.4,460.5L399.9,463.2M398.0,466.4L396.4,469.3M394.5,472.6L393.0,475.2M391.1,478.5L389.5,481.3M387.7,484.4L386.1,487.2M384.2,490.5L382.6,493.3M380.9,496.4L379.2,499.2M377.4,502.5L375.7,505.3M374.0,508.4L372.4,511.2M370.5,514.5L368.9,517.3M367.1,520.4L365.5,523.2M363.6,526.5L362.1,529.1M360.2,532.4L358.6,535.3M356.7,538.5L355.2,541.2M353.4,544.4L351.7,547.3M349.9,550.5L348.4,553.2M346.5,556.4L344.9,559.3M343.0,562.6L341.5,565.2M339.6,568.5L338.0,571.3M336.2,574.4L334.6,577.2M332.7,580.5L331.1,583.3M329.4,586.4L327.7,589.2M325.9,592.5L324.2,595.3M322.5,598.4L320.9,601.2M319.0,604.5L317.4,607.3M315.6,610.4L314.0,613.2M312.1,616.5L310.6,619.1M308.7,622.4L307.1,625.3M305.2,628.5L303.7,631.2M301.9,634.4L300.2,637.3M298.4,640.5L296.9,643.2M295.0,646.4L293.4,649.3M291.5,652.6L290.0,655.2M288.1,658.5L286.5,661.3M284.7,664.4L283.1,667.2M281.2,670.5L279.6,673.3M277.9,676.4L276.2,679.2M274.4,682.5L272.7,685.3M271.0,688.4L269.4,691.2M267.5,694.5L265.9,697.3" fill="none" stroke="#000" stroke-width="1" shape-rendering="crispEdges"/></g>
<g clip-path="url(#frameclip)" fill="none" stroke="#000" stroke-width="1" shape-rendering="crispEdges" stroke-linejoin="round">
<polyline points="46.0,241.0 50.0,237.0 55.0,231.0 58.0,225.0 64.0,220.4 70.0,217.0 76.0,213.0 79.0,211.6 83.0,213.6 88.0,216.4 95.0,214.4 102.0,211.0 110.0,207.6 116.0,205.0 122.0,202.0 127.0,200.0 132.0,198.0 142.0,195.0 154.0,192.0 164.0,191.4 172.0,190.0 176.4,186.4"/>
<polyline points="176.4,186.4 174.0,183.6 166.0,181.6 156.0,183.6 146.0,184.4 134.0,186.4 122.0,188.4 114.0,190.6 109.0,192.8 107.6,189.0 114.0,187.0 124.0,183.0 127.0,179.6 130.0,182.0 138.0,180.0 144.0,177.0 150.0,174.0 153.0,172.4 152.0,176.0 155.0,178.0 162.0,176.0 168.0,174.0 174.0,175.0 182.0,174.4 190.0,175.0 196.0,174.4 202.0,171.0 206.0,168.0 209.0,164.0 216.0,165.0 222.0,164.0 232.0,166.0 236.0,165.0 246.0,166.0"/>
<polyline points="48.0,295.0 52.0,282.0 62.0,276.0 72.0,272.0 79.0,270.0 83.0,269.6 88.0,271.0 96.0,272.0 106.0,275.0 116.0,277.0 122.0,279.0 126.0,283.0 128.0,288.0 130.0,293.0 132.0,295.0"/>
<polyline points="246.0,167.4 251.0,167.6 255.0,171.0 260.0,173.6 266.0,176.0 272.0,181.0 278.0,187.0 283.0,190.4 286.0,192.4 291.0,193.6 300.0,195.6 312.0,195.6 320.0,196.0 326.0,196.6 332.0,196.0 334.0,200.0 340.0,198.0 342.0,200.0 346.0,199.0 350.0,197.0 352.0,202.0 356.0,200.0 360.0,201.0 366.0,200.0 374.0,200.4 378.0,198.0 384.0,195.6 390.0,193.6 395.0,192.0 397.0,189.0 398.0,185.0 400.0,181.0 402.0,178.4 404.0,180.0 403.2,186.0 404.0,190.4 406.0,187.6 406.0,182.0 408.0,173.0 411.0,163.0 415.0,154.4 420.0,147.0 426.0,141.0 429.0,139.0 427.0,142.4 422.0,148.0 417.0,156.0 414.4,162.4 413.6,168.0 418.0,168.0 426.0,166.4 432.0,169.0 438.0,168.0 446.0,168.0"/>
<polyline points="284.0,199.0 288.0,200.4 294.0,202.0 298.0,200.0 306.0,197.2 312.0,193.2 308.0,191.6 300.0,193.2 292.0,195.2 285.0,198.0"/>
<polyline points="324.0,188.4 334.0,190.0 338.0,191.6 334.0,193.6 330.0,192.0 326.0,190.0"/>
<polyline points="399.0,168.0 401.0,164.0 404.0,163.6 405.0,167.0 403.0,171.0 400.0,172.4 398.4,170.0 399.0,168.0"/>
<polyline points="446.0,174.4 441.0,176.4 440.0,184.0 435.0,189.0 434.0,194.4 439.0,197.2 446.0,197.2"/>
<polyline points="439.6,203.0 444.0,202.0 446.0,204.0 444.0,208.0 440.0,207.0 439.6,203.0"/>
<polyline points="433.0,132.0 436.0,129.0 441.0,126.0 439.0,130.0 435.0,134.0 433.0,132.0"/>
<polyline points="478.0,178.4 485.0,176.2 492.0,172.8 499.0,169.0 506.0,166.0 512.0,169.0 518.0,169.6 523.0,170.4 525.0,165.0 528.0,162.0 531.0,158.0 531.6,152.0 534.0,148.0 538.0,143.0 544.0,140.0 548.0,137.0 552.0,135.0 556.0,131.6 561.0,129.0 564.0,127.0 567.6,126.0 568.0,128.0 564.0,128.4 562.4,128.4"/>
<polyline points="562.4,128.4 561.0,136.0 559.0,144.0 557.0,152.0 555.0,158.0 550.0,162.0 544.0,165.0 538.0,168.0 532.0,171.0 526.0,173.0 522.0,176.0 518.0,181.0 517.0,183.0 522.0,182.4 528.0,181.6 532.0,178.0 540.0,176.0 548.0,175.4 555.0,177.4 561.0,181.0 568.0,187.0 576.0,192.4 586.0,192.8 598.0,190.4 612.0,188.4"/>
<polyline points="446.0,184.0 452.0,183.0 458.0,185.0 456.0,188.0 450.0,189.0 446.0,190.0"/>
<polyline points="446.0,196.0 454.0,194.0 462.0,189.0 470.0,190.0 476.0,194.0 482.0,196.0 484.0,188.0 481.0,180.0 480.0,178.0"/>
<polyline points="458.0,120.0 462.0,118.0 466.0,116.0 472.0,115.0"/>
<polyline points="502.0,123.0 505.0,125.0"/>
<polyline points="522.0,138.0 524.0,141.0"/>
<polyline points="595.2,170.2 600.7,163.4 604.8,155.1 607.5,145.5 608.9,142.7 611.0,145.5 615.8,142.7 618.6,138.6 620.6,133.1 622.0,131.0 624.1,133.1 625.5,131.7 622.7,137.2 619.9,141.3 617.2,145.5 613.1,151.0 608.9,156.5 604.8,162.0 600.7,167.5 595.2,170.2"/>
<polyline points="602.0,168.2 602.7,174.4 605.5,178.5 609.6,177.8 611.7,179.2 610.3,182.6 612.4,186.8 611.7,188.8 602.0,190.2 591.0,191.6 580.0,193.7"/>
<polyline points="602.0,168.2 607.5,159.2 614.4,153.7 621.3,149.6 628.2,146.8 637.9,144.8 646.1,143.4 655.8,142.7 662.6,143.0 668.2,146.1 670.9,149.9 676.4,151.2 680.0,151.7"/>
<polyline points="668.8,148.2 672.3,148.9 672.0,151.7 669.3,151.2 668.8,148.2"/>
<polyline points="625.5,111.0 631.0,111.0 635.1,111.7 639.2,115.2 642.0,119.3 641.3,122.0 637.9,123.4 635.1,125.5 632.3,127.5 630.3,129.6 628.9,128.2 628.2,123.4 627.5,117.9 625.5,115.2 625.5,111.0"/>
<polyline points="646.1,112.4 648.9,108.3 651.6,104.1 653.0,100.0"/>
<polyline points="647.5,115.2 651.6,113.8 657.1,108.3 662.6,104.1 669.5,102.1 676.4,101.7 680.0,102.8"/>
<polyline points="648.0,114.0 650.0,108.0 653.0,101.0 658.0,97.0 664.0,92.0 668.0,88.0 672.0,88.0 676.0,86.0 680.0,86.0 684.0,88.0 688.0,91.0 694.0,93.0 700.0,92.6 703.0,96.0 706.0,99.0 712.0,98.0 718.0,97.0 722.0,99.0 728.0,102.0 732.0,104.0 734.0,106.0 731.0,107.6 728.0,112.0 726.0,116.0 720.0,115.0 714.0,114.0 708.0,113.0 704.0,112.0 700.0,108.0 696.0,105.0 692.0,103.0 688.0,104.0 684.0,105.0 680.0,104.0 676.0,102.0 670.0,102.4 664.0,104.0 658.0,106.0 653.0,109.0 650.0,112.0 648.0,114.0"/>
<polyline points="624.0,110.0 630.0,111.0 629.0,116.0 630.0,122.0 630.0,129.0 634.0,124.0 639.0,120.0 640.0,116.0 637.0,112.0 634.0,109.0"/>
<polyline points="600.0,168.0 610.0,152.0 620.0,146.0 630.0,144.0 640.0,143.0 650.0,142.4 658.0,141.6 664.0,144.0 670.0,149.0 676.0,151.0 684.0,151.0 692.0,152.0 700.0,153.0 703.0,150.0 704.0,144.0 708.0,136.0 712.0,130.0 718.0,127.0 724.0,129.0 730.0,134.0 731.0,138.0 726.0,140.0 722.0,142.0 718.0,147.0 715.0,152.0 712.0,156.0 709.0,160.0 708.0,165.0 711.0,170.0 712.0,176.0 711.0,180.0 716.0,182.0 722.0,181.0 728.0,185.0 731.0,190.0 734.0,184.0 736.0,176.0 744.0,171.0 750.0,167.0 756.0,165.0 760.0,160.0 764.0,152.0 768.0,148.0 770.0,140.0 776.0,138.0 784.0,137.0 792.0,138.0 800.0,136.0"/>
<polyline points="724.0,172.0 728.0,166.0 731.0,164.0"/>
<polyline points="752.0,95.0 756.0,96.0"/>
<polyline points="766.0,94.6 772.0,94.0"/>
<polyline points="799.3,122.9 803.5,120.2 811.7,118.1 818.6,116.7 823.1,116.4 821.4,120.9 818.6,125.0 815.9,127.1 810.4,127.5 804.8,126.4 800.0,124.3 799.3,122.9"/>
<polyline points="840.7,93.3 844.9,92.6 847.6,89.8 850.4,85.0 855.9,84.3 862.8,85.7 867.6,85.0 872.5,83.6 875.2,85.7 875.9,89.1 875.2,92.6 871.1,96.0 866.9,98.8 865.6,96.7 862.8,96.0 857.3,98.8 853.1,101.5 847.6,102.9 845.6,100.2 844.9,96.0 840.7,93.3"/>
<polyline points="869.0,56.0 866.9,61.5 869.0,69.8 872.5,75.3 876.6,78.1 879.4,80.8 878.0,83.6 875.2,85.7"/>
<polyline points="873.8,56.0 872.5,61.5 875.2,67.0 873.8,73.9 876.6,78.1"/>
<polyline points="882.8,73.9 886.3,71.9 889.7,73.3 889.0,76.7 885.6,80.2 883.5,82.9 881.4,80.2 882.8,73.9"/>
<polyline points="887.6,56.0 889.7,65.7 893.2,62.9 898.7,60.1 899.4,58.1 894.5,56.0"/>
<polyline points="918.0,75.3 909.7,76.7 904.2,80.8 909.7,80.2 918.0,81.5"/>
<polyline points="780.0,136.0 788.3,137.4 795.2,138.8 797.9,140.2 800.7,138.1 807.6,138.8 815.9,140.9 824.2,144.3 831.1,147.8 836.6,152.6 838.0,156.1"/>
<polyline points="814.0,140.0 826.0,144.0 834.0,149.0 838.0,154.0 840.0,159.0 844.0,160.0 844.0,165.0 850.0,168.0 856.0,175.0 862.0,181.0 867.0,181.0 862.0,185.0 860.0,192.0 864.0,199.0 872.0,204.0 880.0,209.0 888.0,209.0 894.0,202.0 900.0,194.0 904.0,184.0 910.0,175.0 918.0,170.0"/>
<polyline points="867.6,173.6 870.0,172.0 876.0,173.0 883.0,176.0 885.0,182.0 883.0,187.0 879.0,188.4 875.0,185.0 871.0,181.0 869.0,178.0 867.6,173.6"/>
<polyline points="718.0,182.0 722.0,184.4 726.0,188.4 730.0,191.0 733.0,188.0 736.0,180.0 734.0,175.0 730.0,172.0 727.0,165.0 730.0,164.0 734.0,168.0 742.0,170.0 750.0,171.0 751.0,165.0 755.0,160.0 759.0,153.0 760.0,148.0 766.0,146.0 771.0,144.0"/>
<polyline points="918.0,289.0 906.0,293.0 898.0,297.0 892.0,303.0 886.0,309.0 878.0,312.0 875.0,315.0 878.0,319.0 882.0,325.0 883.0,331.0 881.0,337.0 884.0,343.0 892.0,347.0 896.0,353.0 900.0,361.0 906.0,369.0 912.0,379.0 918.0,385.0"/>
<polyline points="918.0,452.0 908.0,453.6 898.0,453.0 890.0,452.0 884.0,451.0 878.0,449.0 868.0,448.0 860.0,447.0 867.0,452.0 867.6,460.0 864.0,465.0 858.0,468.0 853.0,469.0 851.0,466.0 851.6,461.0 849.0,465.0 846.0,470.0 838.0,473.0 830.0,475.0 824.0,477.0 821.0,482.0 820.0,488.0 816.0,496.0 812.0,504.0 807.0,514.0 802.0,520.0 796.0,526.0 792.0,529.0 784.0,528.0 782.0,532.0 780.0,538.0 776.0,544.0 768.0,548.0 760.0,551.0 750.0,549.0 742.0,548.0 736.0,552.0 735.0,558.0 738.0,562.0 744.0,563.0 754.0,565.0"/>
<polyline points="787.0,534.0 789.0,540.0 790.0,550.0 786.0,560.0 787.0,565.0"/>
<polyline points="787.0,534.0 798.0,538.0 810.0,532.0 824.0,528.0 827.0,532.0 830.0,542.0 836.0,550.0 838.0,558.0 838.0,565.0"/>
<polyline points="768.0,561.0 772.0,560.0 776.0,565.0"/>
<polyline points="600.0,630.0 610.0,629.0 620.0,628.0 630.0,626.4 640.0,624.0 645.0,622.0 646.0,618.0 652.0,615.0 658.0,614.0 664.0,610.0 666.4,604.0 666.0,596.0 664.0,588.0 662.0,580.0 658.0,574.0 654.0,569.0 653.0,572.0 648.0,574.0 646.0,578.0 644.0,582.0 637.0,583.0 632.0,585.0 630.0,588.0 626.0,591.0 622.0,592.0 618.0,591.0 612.0,589.0 608.0,587.0 604.0,584.0 600.0,582.0"/>
<polyline points="645.0,591.0 648.0,586.0 651.6,582.0 652.4,585.0 650.0,589.0 646.4,591.6 645.0,591.0"/>
<polyline points="601.0,611.0 608.0,608.0 615.0,605.6 614.0,608.0 608.0,610.0 602.0,612.0 601.0,611.0"/>
<polyline points="663.0,619.6 668.0,622.0 676.0,625.0 680.0,626.0 679.0,620.0 677.6,613.6"/>
<polyline points="680.0,626.0 686.0,621.6 696.0,626.0 708.0,632.0 720.0,633.0 730.0,638.0 740.0,646.0 752.0,646.0 764.0,650.0 776.0,654.0 786.0,660.0 796.0,666.0 800.0,668.0"/>
<polyline points="663.0,619.6 670.0,624.0 680.0,628.0 690.0,634.0 702.0,640.0 708.0,646.0 718.0,650.0 726.0,656.0 736.0,664.0 748.0,667.0 760.0,672.0 772.0,676.0 784.0,677.0 796.0,676.0 800.0,677.0"/>
<polyline points="780.0,540.0 776.0,543.0 768.0,547.0 760.0,550.0 752.0,549.0 744.0,548.0 740.0,549.0 736.0,552.0 738.0,560.0 748.0,563.0 758.0,564.0 766.0,566.0 770.0,561.0 774.0,562.0 778.0,568.0 782.0,566.0 786.0,560.0 790.0,552.0 789.0,544.0 788.0,540.0"/>
<polyline points="830.0,547.0 836.0,553.0 838.0,559.0 837.0,567.0 839.0,575.0 838.0,583.0 835.0,591.0 833.0,599.0 835.0,605.0 832.0,615.0 829.0,623.0 828.0,633.0 826.0,641.0 823.0,649.0 818.0,655.0 814.0,661.0 810.0,669.0 806.0,674.0 802.0,673.0 796.0,667.0 788.0,663.0 782.0,658.0 776.0,655.0 766.0,653.0 758.0,650.0 750.0,646.0 744.0,647.0 736.0,645.0 730.0,639.0 724.0,635.0 718.0,633.0"/>
<polyline points="718.0,649.0 726.0,655.0 734.0,663.0 740.0,667.0 748.0,668.0 758.0,672.0 766.0,678.0 774.0,678.0 782.0,676.6 794.0,677.0 806.0,679.0 810.0,684.0 808.0,685.0 820.0,685.0 827.0,683.0 830.0,677.0 833.0,671.0 838.0,663.0 844.0,655.0 850.0,645.0 852.0,637.0 855.0,633.0 858.0,635.0 864.0,643.0 870.0,651.0 872.0,659.0 876.0,669.0 880.0,677.0 884.0,685.0 885.0,692.0"/>
<polyline points="862.4,615.0 864.0,610.0 867.0,606.0 867.6,611.0 865.0,614.0 862.4,615.0"/>
<polyline points="676.1,470.0 670.1,467.8 664.1,468.5 659.6,472.3 658.1,479.0 656.6,488.0 657.3,494.1 658.8,497.8 664.1,498.6 670.1,501.6 677.6,503.1 685.1,503.8 688.1,504.6 691.1,510.6 694.1,516.6 700.1,518.8 707.6,515.1 712.1,513.6 715.1,507.6 718.9,501.6 715.1,498.6 710.6,495.6 706.9,493.3 701.6,492.6 698.6,489.5 700.1,483.5 694.1,483.5 691.1,485.0 691.1,488.0 688.1,486.5 682.1,488.0 677.6,486.5 673.1,485.0 671.6,482.0 673.1,477.5 676.1,474.5 677.6,471.5 676.1,470.0"/>
<polyline points="685.1,441.5 688.1,440.0 694.1,441.5 698.6,447.5 700.1,453.5 698.6,458.0 694.1,459.5 689.6,456.5 686.6,452.0 685.1,446.0 685.1,441.5"/>
<polyline points="620.5,524.1 617.5,521.1 616.8,516.6 620.5,513.6 623.5,510.6 626.5,508.3 627.3,512.1 625.0,516.6 625.8,519.6 623.5,523.3 620.5,524.1"/>
<polyline points="600.0,532.0 602.0,525.0 605.0,520.0 610.0,518.0 613.0,523.0 616.0,528.0 620.0,527.0 623.5,525.6 628.0,524.0 634.0,523.3 640.0,523.3 647.6,523.3 653.6,524.0 655.8,528.6 655.0,534.6 650.6,540.0 644.6,543.6 637.0,545.9 629.5,546.6 625.0,548.0 618.0,554.0 610.0,560.0 604.0,562.0 601.0,556.0 600.0,548.0 599.0,540.0 600.0,532.0"/>
<polyline points="572.1,591.8 578.1,595.6 584.1,597.8 585.6,601.6 588.6,604.6 593.1,606.1 596.1,604.6 594.6,601.6 593.1,597.8 596.1,597.1 599.1,595.6 597.6,592.6 594.6,589.5 590.1,588.0 585.6,585.0 584.1,582.0 587.1,579.0 590.1,576.0 596.1,573.8 599.1,574.5 600.6,579.0 602.1,583.5 605.1,585.8 608.1,588.0 614.1,589.5 620.1,592.6 624.6,591.1 627.6,586.5 632.1,583.5 638.1,582.0 644.1,576.0 650.2,573.0"/>
<polyline points="602.1,610.6 608.1,608.3 614.9,606.1 614.1,607.9 608.1,610.0 602.1,611.5 602.1,610.6"/>
<polyline points="500.0,625.6 506.0,624.1 512.0,623.3 518.0,621.8 524.0,621.1 530.0,620.3 533.8,621.8 536.0,627.1 535.3,633.1 534.5,637.6 536.0,642.1 542.0,643.6 548.0,645.1 557.1,645.9 564.6,647.4 566.1,649.0"/>
<polyline points="590.1,639.1 596.1,633.1 602.1,630.1 608.1,629.3 620.1,628.6 629.1,627.1 638.1,625.6 644.1,624.1 650.2,622.6"/>
<polyline points="426.0,443.0 430.5,441.5 432.0,445.3 436.5,446.0 442.5,445.3 447.0,448.3 448.5,453.5 445.5,456.5 439.5,458.8 434.3,459.5 430.5,456.5 426.8,455.0 425.3,450.5 424.5,447.5 426.0,443.0"/>
<polyline points="508.6,440.0 506.8,447.5 504.8,455.0 501.8,461.0 498.1,467.0 493.6,472.3 491.3,476.8 492.1,482.0 493.6,488.0 495.1,493.3 498.8,496.8 502.6,494.4 506.3,490.3 509.8,487.7 510.8,491.8 512.3,497.1 513.8,501.6 516.1,504.6 519.1,506.8 523.6,506.1 528.1,504.6"/>
<polyline points="528.1,443.0 525.9,449.0 523.9,458.0 523.0,464.8 525.1,471.5 528.9,476.8 530.8,482.8 529.6,488.0 528.1,492.6 525.1,497.1 523.6,500.1 525.1,503.1 528.1,504.6"/>
<polyline points="534.1,443.0 535.6,449.0 534.4,455.0 533.5,461.0 535.6,468.5 538.6,473.0 544.6,470.0 550.6,466.3 556.6,462.5 562.6,458.0 568.6,453.5"/>
<polyline points="544.6,479.0 543.1,485.0 544.6,489.5 541.6,495.6 540.1,500.1 537.1,504.6 532.6,507.6 528.1,509.1 523.6,512.1 519.1,513.6 516.1,512.1 513.1,510.6"/>
<polyline points="476.1,540.0 473.8,544.5 471.6,546.8 467.1,550.5 461.1,552.8 460.3,555.0 464.1,557.3 468.6,559.5 471.6,564.0 473.8,570.0 474.6,576.0 472.3,582.0 468.6,584.3 462.6,583.5 455.1,582.8 447.6,582.0 443.1,580.5 438.6,583.5 437.8,589.5 437.1,597.1 435.6,604.6 434.1,612.1 433.3,621.1 437.1,621.8 443.1,622.6 446.1,625.6 446.8,630.1 455.1,627.8 462.6,627.1 468.6,627.1 473.1,624.1 476.1,618.1 478.3,612.1 480.6,604.6 485.1,598.6 491.1,594.1 492.6,588.0 495.6,585.0 500.1,585.0 506.1,585.0 510.6,582.0 515.1,577.5 521.1,576.8 530.2,580.5"/>
<polyline points="446.1,634.6 449.1,631.6 455.1,633.1 462.6,636.1 467.1,637.6 473.1,634.6 479.1,631.6 485.1,630.1 492.6,628.6 500.1,627.1 507.6,626.3 515.1,624.1 522.6,621.8 530.2,619.6"/>
<polyline points="490.4,608.3 493.4,606.1 495.6,608.3 492.6,610.3 490.4,608.3"/>
<polyline points="488.4,378.6 493.2,376.8 495.0,373.2 498.0,371.4 502.2,372.0 502.8,375.6 500.4,378.0 499.2,380.4 502.2,382.8 505.2,383.4 505.8,386.4 502.8,387.0 501.0,385.2 499.8,387.6 499.2,393.0 496.8,391.2 493.2,386.4 490.8,382.8 488.4,378.6"/>
<polyline points="513.6,360.0 516.0,357.6 518.4,354.0 520.8,351.6 522.0,348.0 520.8,345.0 518.4,345.6 516.0,349.2 517.2,352.8 515.4,356.4 513.6,360.0"/>
<polyline points="541.8,351.6 544.8,351.0 546.0,354.0 546.6,358.8 548.4,363.6 550.8,368.4 554.4,372.0 559.2,375.0 564.0,378.0 565.2,380.4 562.8,382.8 559.2,385.2 555.6,385.2 552.0,382.8 549.6,379.2 547.2,374.4 544.8,369.6 542.4,364.8 541.8,360.0 541.2,355.2 541.8,351.6"/>
<polyline points="567.6,378.6 571.2,378.0 574.8,379.2 576.0,382.8 573.6,386.4 572.4,391.2 569.4,391.8 567.6,394.8 567.0,399.6 565.8,404.4 568.2,406.8 566.4,409.2 562.8,409.8 559.2,406.8 557.4,408.6 560.4,411.6 564.0,414.0 566.4,417.0"/>
<polyline points="559.8,395.4 561.6,394.6 562.8,397.2 561.0,399.0 559.8,397.2 559.8,395.4"/>
<polyline points="514.4,230.0 519.2,232.4 524.0,234.8 525.8,237.2 525.8,242.0 525.2,245.0 528.8,248.0 532.4,251.6 535.4,254.0 538.4,252.8 540.8,249.8 543.2,251.6 545.6,255.2 548.0,258.2 550.4,260.0 552.8,257.6 554.6,257.6 554.6,261.2 552.8,263.6 549.2,266.0 547.4,269.6 548.0,274.4 550.4,278.0 552.8,276.8 554.6,279.2 554.0,282.2 555.2,286.4 556.4,290.0 557.6,293.6 555.2,293.0 551.6,292.4 548.0,293.0 544.4,294.8 543.2,299.6 543.2,304.4 541.4,308.0 542.0,310.4 545.6,312.8 549.2,315.2 550.4,317.0"/>
<polyline points="516.8,255.8 518.6,254.6 519.8,257.0 521.6,258.8 525.2,261.2 530.0,263.6 531.8,266.0 529.4,269.6 527.0,268.4 524.0,266.6 521.0,263.6 519.2,260.0 516.8,257.6 516.8,255.8"/>
<polyline points="530.6,254.0 533.0,255.2 532.4,260.0 530.6,259.4 530.6,254.0"/>
<polyline points="557.6,294.8 561.2,296.6 563.6,299.4 560.6,299.0 558.2,297.2 557.6,294.8"/>
<polyline points="530.0,317.0 532.4,312.8 534.8,309.8 538.4,309.2 540.2,312.8 538.4,315.8"/>
<polyline points="456.4,199.2 458.8,195.6 461.2,192.0 462.4,188.4 466.0,189.6 469.6,192.0 473.2,193.2 476.2,195.0 477.4,197.4 478.6,194.4 480.4,192.0 484.0,189.6 484.6,187.2 482.8,184.8 480.4,181.2 479.2,178.8 481.6,177.0 486.4,176.4 491.2,174.0 497.2,171.0 502.0,168.0 505.6,165.6 508.0,168.6 510.4,169.8 514.0,168.0 518.8,167.4 522.4,168.6 524.8,168.0 527.2,165.6 529.6,162.0 531.4,159.6 529.6,157.2 532.0,152.4 533.2,150.0"/>
<polyline points="456.4,199.2 461.2,202.8 466.0,204.0 470.8,207.6 475.6,211.2 479.2,213.6 485.2,217.8 490.0,219.0 494.8,219.0 496.6,215.4 499.0,214.8 500.8,218.4 506.8,220.8 514.0,223.2 515.2,228.0 518.8,231.6 524.8,233.4 526.0,237.0"/>
<polyline points="451.6,184.2 455.2,183.0 458.8,184.8 458.2,186.6 454.6,186.0 451.6,184.2"/>
<polyline points="474.4,225.6 477.4,223.2 480.4,223.8 479.8,226.8 476.2,227.8 474.4,225.6"/>
<polyline points="438.4,168.6 441.4,167.4 443.2,168.6 440.8,169.8 438.4,168.6"/>
<polyline points="431.2,234.4 427.6,235.0 422.8,236.2 418.0,237.4 413.2,239.8 408.4,241.6 402.4,242.8 401.2,246.4 400.0,251.2 398.8,257.2 396.4,260.8 391.6,262.0 389.2,264.4 388.0,268.0 385.6,269.8 382.0,271.6 379.6,274.0 378.4,277.0"/>
<polyline points="370.0,252.4 373.6,251.2 375.4,254.8 374.8,259.6 375.4,264.4 372.4,265.6 370.0,265.0"/>
<polyline points="394.0,277.0 395.2,271.6 398.8,269.8 403.0,270.4 404.8,274.0 407.2,277.0"/>
<polyline points="361.6,257.2 365.2,254.8 368.8,251.8 371.2,257.2 373.6,254.8 375.4,251.8 376.0,257.2 374.8,262.0 373.6,265.6 370.0,265.6 366.4,263.2 364.0,259.6 361.6,257.2"/>
<polyline points="359.2,329.2 364.0,326.8 368.8,324.4 373.6,322.0 379.6,320.8 385.6,319.6 390.4,318.4 395.2,317.8 400.0,318.4 404.8,319.6 409.6,320.8 414.4,323.2 419.2,324.4 424.0,326.8 428.8,325.6 432.4,323.2 436.0,324.4 440.8,328.0 443.2,332.8 444.4,337.0"/>
<polyline points="370.0,331.6 376.0,329.2 382.0,326.8 388.0,329.2 392.8,332.8 396.4,337.0"/>
<polyline points="397.6,317.2 398.8,322.0 400.0,328.0 400.6,334.0 401.2,337.0"/>
<polyline points="404.8,317.2 407.2,322.0 408.4,328.0 407.2,334.0 406.6,337.0"/>
<polyline points="340.0,254.8 343.6,257.2 346.0,262.0 344.8,266.8 343.6,271.6 342.4,277.6"/>
<polyline points="345.6,352.6 349.2,352.0 352.2,354.4 354.0,358.0 358.8,360.4 364.8,360.4 369.6,358.0 373.8,355.0 376.8,350.8 378.0,347.2 380.4,346.0 385.2,349.6 386.4,353.2 385.2,358.0 382.8,362.8 379.2,365.2 375.6,366.4 373.2,368.8 372.6,373.6 372.0,378.4 368.4,382.0 364.8,383.2 362.4,382.0 363.6,378.4 363.0,374.8 360.0,373.6 357.6,377.2 355.2,382.0 352.8,385.6 349.2,386.8 345.6,384.4 343.2,380.8 342.0,377.2 344.4,373.6 346.2,370.0 348.0,365.2 348.6,360.4 346.8,358.0 345.6,355.6 345.6,352.6"/>
<polyline points="361.8,353.2 364.8,352.0 368.4,353.2 367.2,355.6 363.6,355.6 361.8,353.2"/>
<polyline points="330.0,316.0 334.8,319.6 338.4,323.2 342.0,325.6 345.6,328.0 350.4,331.6 354.0,334.0 356.4,337.6 361.2,341.2 366.0,341.8 370.8,340.0 373.2,336.4 374.4,332.8 378.0,329.2 384.0,328.0 390.0,329.2 393.6,332.2 394.8,336.4 392.4,340.0 390.0,343.6 388.8,347.2 386.4,349.6"/>
<polyline points="337.2,334.0 342.0,332.8 348.0,333.4 354.0,332.8 355.2,335.2 351.6,337.6 346.8,338.8 343.2,341.2 340.8,346.0 339.6,348.4 338.4,343.6 338.4,338.8 337.2,334.0"/>
<polyline points="382.8,331.6 387.6,331.0 392.4,332.8 393.6,337.6 391.2,341.2 388.8,340.0 385.2,336.4 382.8,331.6"/>
<polyline points="387.6,340.0 392.4,338.8 395.4,341.2 394.8,344.8 391.2,346.0 388.8,343.6 387.6,340.0"/>
<polyline points="414.0,346.0 412.8,350.8 414.0,358.0 414.0,364.0 410.4,368.8 404.4,376.0 399.6,382.0 395.4,386.8 392.4,391.6 390.0,397.0"/>
<polyline points="414.0,346.0 418.8,344.8 423.6,343.6 429.6,344.2 434.4,344.8 439.2,344.8 444.0,346.0 450.0,352.0"/>
<polyline points="416.4,322.0 421.2,324.4 426.0,325.6 430.8,326.8 432.0,330.4 432.6,335.2 429.6,337.6 424.8,338.8 421.2,341.2 417.6,343.6 414.0,346.0"/>
<polyline points="430.8,323.2 435.6,324.4 440.4,328.0 443.4,332.8 444.6,338.8 444.0,344.8"/>
<polyline points="397.2,317.2 402.0,319.6 406.8,320.8 411.6,318.4 416.4,317.2 421.2,314.8 426.0,312.4"/>
<polyline points="415.2,360.0 412.8,367.2 409.2,372.0 404.4,376.8 399.6,379.2 398.4,382.8 396.0,385.2 393.0,387.6 393.0,391.2 392.4,394.2 386.4,394.2 381.6,396.0 378.0,399.6 375.6,403.2 373.2,408.0 370.8,411.6 368.4,416.4 366.0,421.2 364.2,426.0 363.6,430.8 365.4,435.6 367.8,440.4 369.6,442.8 373.2,440.4 378.0,436.8 382.8,433.2 387.6,432.0 391.2,428.4 392.4,425.4 396.0,426.0 400.8,428.4 404.4,429.0 409.2,427.8 412.8,426.6 416.4,424.8 421.2,424.8 426.0,425.8 432.0,425.4 436.8,424.2 439.2,421.2 441.6,416.4 441.6,412.8 444.0,409.2 446.4,405.6 450.0,403.2 453.6,400.2 454.8,396.0 453.6,392.4 456.0,390.0 457.2,384.0 458.4,380.4 462.0,375.6 465.6,372.0 469.2,369.0 468.0,366.0 465.6,364.8 463.2,363.6 462.0,360.0"/>
<polyline points="391.2,387.6 394.8,384.6 399.6,384.0 400.8,387.6 398.4,391.2 394.8,392.4 391.8,390.6 391.2,387.6"/>
<polyline points="433.2,418.8 436.8,415.8 439.2,417.6 438.0,421.2 434.4,420.0"/>
<polyline points="458.4,362.4 462.0,361.2 464.4,363.6 462.0,367.2 459.0,367.2 458.4,362.4"/>
<polyline points="546.8,270.0 549.2,274.8 552.8,276.0 555.2,280.8 556.4,285.6 557.6,291.6 560.0,297.6"/>
<polyline points="555.2,292.8 548.0,293.4 544.4,295.2 543.2,298.8 543.8,303.6 542.0,306.0 540.8,308.4 543.2,310.8 548.0,313.2 550.4,316.8 552.8,321.6 555.2,325.2 557.6,328.8 560.0,330.0"/>
<polyline points="524.6,320.4 527.6,318.0 532.4,315.6 533.6,312.0 536.0,309.6 539.0,310.8 540.8,315.0 536.0,316.2 534.8,319.2 532.4,322.8 528.8,322.8 525.2,321.6 524.6,320.4"/>
<polyline points="440.0,330.0 443.6,332.4 444.8,337.2 444.8,343.2 440.0,345.0"/>
<polyline points="440.0,345.0 446.0,348.0 448.4,351.6 453.2,350.4 458.0,351.6 461.6,354.0 464.0,356.4"/>
<polyline points="242.2,316.7 246.4,320.9 249.2,325.1 253.4,329.4 256.2,332.2 254.8,336.4 252.0,339.2 248.5,342.0 245.0,346.2 242.2,347.6 241.5,342.0 242.2,336.4 245.0,333.6 242.9,329.4 241.5,322.3 242.2,316.7"/>
<polyline points="211.2,336.4 215.5,335.0 221.1,334.7 226.7,334.3 229.5,332.2 232.3,333.6 235.1,336.4 237.3,339.2 233.7,340.6 228.1,339.2 223.9,340.6 218.3,342.0 214.1,340.6 211.9,338.5 211.2,336.4"/>
<polyline points="222.5,360.3 226.7,353.3 232.3,351.8 236.5,349.0 240.8,349.0 242.2,353.3 240.8,358.9 239.4,363.1 236.5,367.3 233.7,368.7 230.9,365.9 228.1,363.1 224.6,361.7 222.5,360.3"/>
<polyline points="212.7,356.1 214.1,355.4 216.9,358.9 219.7,364.5 222.5,371.5 223.2,375.7 221.1,374.3 218.3,370.1 215.5,364.5 213.4,360.3 212.7,356.1"/>
<polyline points="226.0,371.5 229.5,370.8 233.7,372.9 237.3,375.7 235.8,380.0 233.7,385.6 230.9,387.0 228.8,382.8 227.4,377.2 226.0,371.5"/>
<polyline points="340.0,325.1 336.4,323.7 332.1,320.9 326.5,318.1 320.9,316.0 315.3,314.6 309.6,316.0 304.0,316.7 302.6,322.3 301.2,328.0 298.4,333.6 297.0,339.2 295.6,343.4 292.8,349.0 291.4,353.3 290.0,357.5 287.2,360.3 281.5,363.1 275.9,365.9 271.7,363.1 274.5,358.9 278.7,354.7 284.3,353.0 290.0,357.5 291.4,360.3 298.4,363.1 305.4,365.9 312.5,361.7 318.1,358.9 323.7,359.6 329.3,356.1 334.9,354.7 339.2,356.1 337.1,360.3 334.9,365.9 333.5,374.3 330.7,380.0 326.5,382.8 323.7,387.0 322.3,392.1"/>
<polyline points="266.1,291.4 273.1,290.7 275.9,292.8 284.3,292.1 285.7,295.6 281.5,298.4 275.9,298.4 271.7,301.2 267.5,299.8 266.1,295.6 266.1,291.4"/>
<polyline points="298.4,357.5 301.2,356.1 304.0,358.2 301.2,360.3 298.4,357.5"/>
<polyline points="332.1,342.0 334.9,343.4 333.5,345.5 332.1,342.0"/>
<polyline points="337.1,333.6 340.0,332.2"/>
<polyline points="337.1,337.8 340.0,339.2"/>
<polyline points="327.0,370.0 328.4,375.6 327.0,381.2 322.8,385.5 322.1,389.7 328.4,392.5 334.7,394.6 332.6,399.5 328.4,405.1 324.2,409.4 320.0,412.2 317.9,417.8 315.7,423.4 312.9,426.2 317.2,429.0 315.7,433.3 311.5,437.5 310.1,440.3 308.0,441.7 303.1,441.0 297.5,441.7 291.8,443.1 286.2,443.8 280.6,443.8 276.4,442.4 272.2,441.0 268.0,438.9 265.1,436.1 262.3,433.3"/>
<polyline points="280.6,444.5 286.2,443.1 291.8,442.4 297.5,442.4 303.1,442.0 305.9,443.1 301.7,447.3 300.3,452.9 301.0,458.6 298.9,462.8 294.7,467.0 290.4,467.0 286.9,462.8 284.8,457.2 282.7,450.8 280.6,444.5"/>
<polyline points="255.3,402.3 262.3,404.4 269.4,406.5 273.6,408.7 277.8,410.8 278.5,416.4 277.8,420.6 276.4,423.4 272.2,423.4 269.4,420.6"/>
<polyline points="246.9,429.0 253.9,430.4 259.5,431.8 265.1,434.7 269.4,438.9 272.2,441.7 275.0,443.1 272.2,444.5 268.0,443.1 263.7,440.3 259.5,437.5 255.3,434.7 251.1,433.3 246.9,431.8 246.9,429.0"/>
<polyline points="230.0,410.8 235.6,412.2 241.2,416.4 246.9,420.6 252.5,423.4 258.1,426.2 262.3,429.0 265.1,431.8"/>
<polyline points="259.5,413.6 263.7,412.2 266.5,415.0 263.7,417.1 259.5,413.6"/>
<polyline points="282.0,422.0 283.4,420.6 284.1,426.2 282.7,430.4 282.0,426.2 282.0,422.0"/>
<polyline points="50.0,280.0 48.0,288.0 50.0,296.0 49.0,304.0 50.0,314.0 56.0,318.0 64.0,321.0 70.0,322.0 71.0,330.0 73.0,338.0 72.0,346.0 68.0,348.0 62.0,346.0 54.0,344.0 46.0,340.0"/>
<polyline points="130.0,288.0 134.0,296.0 135.0,304.0 132.0,312.0 130.0,320.0 134.0,326.0 137.0,330.0 138.0,340.0 137.0,350.0 136.0,360.0 134.0,364.0 126.0,370.0 118.0,374.0 110.0,378.0 105.0,382.0 104.0,386.0 110.0,389.0 118.0,388.0 128.0,384.0 138.0,379.0 142.0,376.0 150.0,378.0 158.0,382.0 166.0,389.0 174.0,396.0 182.0,400.0 190.0,398.0 198.0,396.0 206.0,394.0 214.0,402.0 222.0,408.0 230.0,412.0 238.0,412.0 246.0,414.0"/>
<polyline points="76.0,375.0 79.0,374.0 80.0,378.0 76.4,378.4 76.0,375.0"/>
<polyline points="99.0,408.0 104.0,403.0 110.0,404.0 106.0,409.0 99.0,408.0"/>
<polyline points="112.0,408.0 116.0,402.0 119.0,398.0 121.0,402.0 118.0,406.0 115.0,410.0"/>
<polyline points="55.0,418.0 58.0,414.0 60.4,418.0 58.0,425.0"/>
<polyline points="77.6,361.6 82.0,368.0 85.0,376.0 87.0,384.0 88.4,392.0 88.4,400.0 87.0,408.0 85.0,414.0 83.0,420.0 81.0,430.0 78.0,439.0 76.0,436.0 74.0,428.0 71.0,420.0 70.4,416.0 74.0,408.0 75.6,400.0 76.0,392.0 75.6,384.0 74.0,376.0 77.6,361.6"/>
<polyline points="64.0,442.0 66.0,441.0 68.0,448.0 68.0,454.0 72.0,450.0 76.0,446.0 79.0,448.0 80.0,456.0 83.0,464.0 84.0,474.0 83.0,480.0 81.0,485.0 78.0,484.0 77.0,479.0 74.0,474.0 70.0,468.0 66.0,464.0 67.0,456.0 65.0,450.0 64.0,442.0"/>
<polyline points="55.0,416.0 58.0,414.0 60.4,418.0 60.0,426.0 57.0,429.6 55.0,426.0 54.4,420.0 55.0,416.0"/>
<polyline points="80.4,494.0 84.0,493.0 87.0,498.0 87.0,504.0 84.0,503.0 81.0,499.0 80.4,494.0"/>
<polyline points="99.0,409.0 104.0,404.0 109.0,403.0 106.0,408.0 99.0,409.0"/>
<polyline points="116.0,408.0 120.0,404.0 122.0,400.0"/>
<polyline points="110.0,414.0 114.0,412.0"/>
<polyline points="96.0,434.0 98.0,436.0"/>
<polyline points="94.0,452.0 96.0,448.0"/>
<polyline points="86.0,443.0 89.0,445.0"/>
<polyline points="84.0,540.0 87.0,539.0"/>
<polyline points="240.0,412.2 244.2,415.0 248.4,419.2 252.6,422.7 256.8,425.5 259.6,429.0 262.5,431.8 265.3,434.7 268.1,440.3 270.9,443.1 273.7,444.5"/>
<polyline points="192.2,396.0 195.0,394.6 199.2,392.5 203.4,392.5 205.5,395.3 204.8,398.1 202.0,397.4 197.8,398.1 195.0,397.4"/>
<polyline points="216.1,403.0 218.9,405.1 220.3,408.0"/>
<polyline points="650.8,261.6 659.6,259.4 668.4,261.6 675.0,266.0 679.4,270.4 680.5,275.9 677.2,272.6 670.6,267.0 661.8,263.8 653.0,263.8 650.8,261.6"/>
<polyline points="388.9,265.0 389.5,267.4 388.3,269.2 385.9,270.5 383.5,271.7 381.1,272.9 379.8,274.7 378.0,276.5 376.2,277.4 374.7,277.7 374.1,275.3 373.2,274.1 371.4,276.5 370.5,278.9 370.5,282.6 369.5,285.0 366.5,286.8 367.1,288.0 368.9,289.2 371.1,288.3 371.7,290.5 371.4,293.5 370.2,295.3 367.7,297.1 365.3,299.5 363.5,302.0 362.3,304.4 362.3,306.8 364.1,308.0 367.1,307.4 369.5,306.8"/>
<polyline points="374.4,280.8 375.6,279.5 378.0,279.5 380.5,278.3 382.3,276.5 384.1,276.5 385.3,277.7 384.7,279.5 383.5,281.4 383.5,283.8 384.7,285.0 385.9,283.2 387.1,280.8 388.9,277.7 390.8,277.1 392.6,278.9 393.8,277.7 395.0,276.5 396.2,278.3 398.6,279.5 399.2,282.6 399.8,285.0 399.8,286.8 398.6,288.6 396.8,289.2 395.6,291.1 394.4,294.1 393.2,295.9 394.4,298.3 396.2,300.2 396.8,302.0 395.0,302.6 392.6,301.4 390.2,300.2 386.5,299.5 382.9,298.9 380.5,300.2 378.6,302.6 376.8,304.4 375.6,303.8 373.8,301.4 372.6,298.9 373.2,296.5 373.8,294.7 373.2,291.7 373.8,289.2 373.8,286.2 374.1,283.2 374.4,280.8"/>
<polyline points="395.6,271.1 397.4,270.5 401.1,270.2 402.9,270.8 404.1,274.1 407.1,275.9 409.5,277.1 410.2,278.9 408.9,281.4 407.7,283.2 405.9,285.0 403.5,286.2 401.1,286.8 399.8,285.0 399.2,282.0 398.6,279.5 396.8,278.3 395.6,276.5 395.0,273.5 395.6,271.1"/>
<polyline points="404.7,291.7 407.1,291.1 409.5,290.5 411.4,288.6 413.2,287.4 415.0,288.0"/>
<polyline points="404.1,292.3 404.7,296.5 405.3,300.2 405.3,303.8 405.9,307.4 407.7,308.6"/>
<polyline points="407.1,294.1 409.5,295.3 412.0,296.5 413.8,297.7 415.0,298.9"/>
<polyline points="407.1,298.9 409.5,301.4 412.0,302.6 415.0,303.2"/>
<polyline points="382.9,309.0 385.3,307.4 387.7,305.6 390.2,304.4 392.6,305.0 394.4,307.4 396.2,309.0"/>
<polyline points="379.2,267.4 381.7,268.3"/>
<polyline points="367.1,265.0 368.3,266.2"/>
<polyline points="372.0,265.0 373.2,265.6"/>
<polyline points="403.5,281.1 405.3,282.0"/>
<polyline points="416.4,284.4 419.4,284.3 420.0,287.4 420.9,291.1 421.2,294.1 420.3,296.5 418.2,294.1 417.0,291.7 416.1,289.2 415.8,286.2 416.4,284.4"/>
<polyline points="417.6,298.9 420.0,297.7 422.4,298.9 423.6,301.4 423.0,303.8 421.5,305.6 419.4,304.4 417.9,302.0 417.6,298.9"/>
<polyline points="403.6,291.7 406.1,290.5 409.1,289.2 410.9,288.0 412.7,286.8"/>
<polyline points="403.6,291.7 403.6,295.3 404.2,298.9 403.6,302.6 404.2,306.2 405.5,309.0"/>
<polyline points="406.1,294.1 407.3,296.5 409.7,298.9 412.1,301.4 413.9,303.8"/>
<polyline points="406.7,297.7 410.3,296.5 414.5,294.7 418.2,294.1"/>
<polyline points="407.3,303.8 409.7,305.0 412.1,306.2 414.5,307.4 415.8,309.0"/>
<polyline points="409.7,285.0 412.1,285.6"/>
<polyline points="403.6,281.4 405.5,282.0"/>
<polyline points="362.9,300.0 362.3,302.4 362.3,305.5 363.5,307.3 365.9,307.9 368.9,306.7 370.8,307.9 373.2,310.3 370.8,312.1 367.7,313.9 365.3,312.7 362.9,311.5 360.5,312.1 361.7,313.9 364.1,315.8 367.1,317.0 370.8,317.0 373.2,315.2 376.2,312.7 379.2,313.9 382.3,315.8 385.3,317.0 387.7,317.0 391.4,316.4 394.4,316.4 396.2,318.2 397.4,320.6"/>
<polyline points="371.4,300.0 372.0,302.4 373.8,303.6 376.2,304.8 378.0,303.6 380.5,301.8 381.1,300.0"/>
<polyline points="384.1,300.0 387.7,300.6 391.4,301.2 394.4,302.4 396.2,301.8 396.8,300.0"/>
<polyline points="382.9,309.1 385.3,307.3 387.7,306.1 390.2,304.8 392.0,306.1 393.8,307.3 395.6,309.1 396.8,312.1 396.2,313.3 393.8,312.7 391.4,313.3 388.9,314.5 385.3,313.9 383.5,312.1 382.9,309.1"/>
<polyline points="367.1,324.2 370.8,321.2 373.2,320.6 376.2,319.4 380.5,318.8 384.1,318.2 386.5,318.2 388.3,320.0 390.2,321.8 392.6,323.6 394.4,324.8 392.6,325.5 390.2,324.8 386.5,324.2 383.5,324.8 380.5,325.5 378.0,326.1 375.6,327.9 374.4,330.3 373.2,332.7 370.2,333.9 367.1,334.5 364.1,333.9 361.1,332.1 359.2,330.9 361.1,329.1 364.1,328.5 367.1,327.3 368.9,325.5 367.1,324.2"/>
<polyline points="382.3,333.3 384.1,332.1 387.1,331.5 390.2,330.9 392.6,332.1 393.8,334.5 395.0,337.6 394.4,340.0"/>
<polyline points="355.0,340.0 358.0,341.8 361.1,341.2 364.1,340.6 367.1,341.2 370.2,341.8 372.0,339.4 373.2,336.4 373.8,333.9 374.4,332.7"/>
<polyline points="397.4,317.0 397.4,321.2 398.0,324.2 398.6,327.3 398.6,330.3 399.2,333.9 399.8,337.6 401.1,339.4"/>
<polyline points="401.1,300.0 402.3,303.6 402.9,307.3 402.3,310.9 402.3,314.5 403.5,318.2 404.7,321.8 405.3,325.5 405.3,330.3 404.7,333.9 402.9,336.4 401.1,337.6"/>
<polyline points="403.5,300.0 404.7,303.0 406.5,306.1 409.5,307.3 411.4,309.1"/>
<polyline points="402.9,312.1 406.5,312.1 409.5,313.3 410.8,315.8 408.3,317.6 405.3,318.2"/>
<polyline points="406.5,321.2 408.3,324.2 409.5,327.3 410.8,330.3 412.6,333.9 414.4,336.4"/>
<polyline points="409.5,318.2 412.6,317.6 415.0,318.2"/>
<polyline points="413.2,320.6 415.0,321.8"/>
<polyline points="386.5,338.8 388.9,340.0 391.4,342.4 392.6,344.0"/>
<polyline points="403.6,300.0 403.6,303.6 404.8,306.1 407.3,307.3 410.9,306.7 413.3,307.9 415.8,307.9 418.2,309.1 420.6,309.7 424.2,309.1 426.1,310.3 424.8,312.1 422.4,313.9 420.0,315.2 417.6,316.4 415.2,317.6 413.3,319.4 412.7,321.2"/>
<polyline points="417.6,300.0 418.2,302.4 420.0,304.2 421.2,305.5 423.0,303.0 423.6,300.0"/>
<polyline points="401.8,312.1 404.8,310.9 408.5,310.9 410.9,312.1 410.3,314.5 407.9,315.2 404.8,314.5 402.4,315.2 400.0,315.8"/>
<polyline points="418.2,321.8 421.2,321.2 424.2,321.2 427.3,320.6 430.3,321.2 432.7,322.4 435.8,324.2 437.6,326.7 439.4,329.1 441.8,330.9 443.0,333.3 444.2,335.8 444.8,338.8 444.8,344.0"/>
<polyline points="418.2,321.8 417.6,324.2 418.2,326.7 420.6,327.9 423.0,328.5 425.5,327.9 427.9,327.3 429.1,325.5 431.5,324.2 432.7,323.0"/>
<polyline points="429.1,327.3 429.7,330.3 430.9,333.9 432.7,335.8"/>
<polyline points="400.0,318.2 402.4,319.4 404.8,321.2 406.1,323.6 407.3,325.5 409.1,326.7 412.1,327.9 414.5,329.1 415.8,330.3"/>
<polyline points="407.3,325.5 407.9,329.1 408.5,332.7 407.9,336.4 409.1,337.6 412.1,338.8 415.8,339.4 418.2,340.0 424.2,340.3 427.3,341.2 430.3,342.4 433.9,343.0 436.4,344.0"/>
<polyline points="400.0,333.3 402.4,333.9 403.6,336.4 402.4,339.4 401.2,342.4"/>
<polyline points="425.5,317.0 427.3,317.6"/>
<polyline points="499.0,467.0 500.0,465.0 502.0,461.0 505.0,456.0 506.5,451.0 507.5,445.0 506.0,440.0 505.0,439.0 507.0,437.0 509.0,433.0 511.0,429.0 513.0,425.0 516.0,421.0 520.0,417.0 524.0,414.5 527.0,413.0 530.0,413.5 532.0,416.0 534.0,417.0 536.0,415.0 538.0,412.0 541.0,414.0 544.0,414.0 548.0,413.5 553.0,414.0 557.0,415.0 559.0,418.0 559.0,422.0 557.0,425.0 553.0,427.0 549.0,428.0 544.0,428.5 546.0,429.5 550.0,430.0 553.0,433.0 555.0,436.0 558.0,437.0 562.0,436.0 563.0,433.0 562.0,431.0 562.0,427.0 565.0,425.0 564.0,421.0 562.0,418.0 564.0,415.0 565.0,412.0 563.0,409.0 558.0,408.0 557.0,406.0 562.0,405.0 567.0,406.0 568.0,403.0 567.0,399.0 568.0,395.0"/>
<polyline points="527.0,445.0 528.0,443.0 532.0,442.0 534.0,443.0 535.0,447.0 534.0,451.0 533.0,455.0 532.0,460.0 533.0,465.0 534.0,467.0"/>
<polyline points="527.0,445.0 526.0,449.0 527.0,453.0 526.0,457.0 524.0,461.0 523.0,465.0 522.0,467.0"/>
<polyline points="560.0,444.0 563.0,445.0 566.0,447.0 568.0,451.0 570.0,455.0 572.0,457.0"/>
<polyline points="554.0,457.0 556.0,455.0 560.0,456.0 563.0,459.0 560.0,463.0 558.0,465.0 556.0,467.0"/>
<polyline points="537.0,418.0 540.0,417.0 540.5,419.5 538.0,420.0 537.0,418.0"/>
<polyline points="614.1,562.4 611.9,566.3 608.6,568.5 604.2,570.7 602.0,574.0 603.1,577.3 605.3,581.7 606.4,586.1 609.7,588.3 614.1,590.5 618.5,592.7 621.8,591.6 627.3,590.5 631.7,586.1 636.1,583.9 641.6,582.8 647.1,579.5 650.0,575.1"/>
<polyline points="602.0,574.0 596.4,574.0 589.8,576.2 584.3,580.6 584.3,583.9 588.7,587.2 594.2,590.5 598.7,592.7 596.4,596.0 592.0,597.1 586.5,596.0 583.2,597.1 581.0,600.0"/>
<polyline points="448.8,632.0 445.6,637.6 440.8,643.2 432.8,647.2 426.4,652.0 421.6,658.4 420.8,666.4 418.4,671.2 410.4,675.2 400.8,679.2 396.0,680.8 392.8,685.6 386.4,688.8 384.0,693.0"/>
<polyline points="375.0,669.0 378.0,670.0 381.0,672.0 384.0,674.0 382.0,676.0 379.0,673.0"/>
<polyline points="391.0,676.0 394.0,672.0 397.0,669.0 396.0,672.0 393.0,676.0"/>
<polyline points="710.4,369.4 712.0,371.0 712.6,374.3 712.0,376.5 710.4,377.0 709.8,379.3 708.7,382.0 708.2,385.3 708.7,388.6 710.9,390.9 713.7,392.0 715.9,393.0 715.3,395.3 713.1,394.2 710.9,393.0 708.7,392.0 707.1,389.8 706.5,387.0 707.1,383.7 707.6,381.0 708.7,378.2 709.3,375.4 709.8,372.1 710.4,369.4"/>
<polyline points="540.0,308.9 546.0,310.9 549.9,314.9 552.9,319.8 555.9,324.8 557.8,328.2 562.8,329.7 563.3,334.7 563.8,339.1 568.7,339.1 572.7,337.7 571.7,340.6 568.7,343.6 567.8,346.6 565.8,348.6"/>
<polyline points="564.8,348.6 569.7,347.6 573.7,346.6 576.7,345.6 574.7,349.6 571.7,350.5 568.7,349.6"/>
<polyline points="562.8,352.5 567.8,351.5 572.7,353.5 577.7,355.5 582.6,356.5 586.6,355.5 591.5,357.0 594.5,360.5 596.5,364.4 595.0,365.9 592.5,362.4 589.6,359.5 584.6,358.5 579.6,357.5 574.7,355.5 568.7,353.5 564.8,354.0 560.8,354.0 562.8,357.5 566.8,360.5 569.7,363.4 572.7,365.4 577.7,366.4 582.6,365.4 585.6,367.4 581.6,369.4 577.7,371.4 572.0,374.0 568.0,376.6"/>
<polyline points="340.3,255.8 342.4,254.5 342.7,257.9 343.7,260.7 346.5,262.0 345.1,264.1 343.1,264.8 342.4,267.5 343.7,269.6 344.4,273.1 343.1,275.1 341.7,277.2 341.0,274.4 340.3,269.6 339.6,266.2 338.2,262.7 338.2,259.3 340.3,255.8"/>
<polyline points="323.1,263.4 324.5,264.8 325.2,267.5 326.5,270.3 325.8,272.4 324.5,274.4 323.1,275.1 322.4,272.4 322.7,268.9 321.7,266.2 323.1,263.4"/>
<polyline points="304.0,283.5 306.0,285.0 308.0,287.0 310.0,289.0 308.0,290.0 306.0,288.0"/>
<polyline points="442.4,528.8 444.8,526.4 446.0,520.4 444.8,518.0 448.4,515.6 452.0,513.2 455.6,513.2 458.0,515.6 456.8,518.0 458.0,521.6 456.8,525.2 454.4,527.6 450.8,530.0 447.2,531.2 443.6,531.2 442.4,528.8"/>
<polyline points="458.0,496.4 464.0,494.0 467.6,495.2 468.8,498.8 472.4,501.2 471.2,506.0 470.0,508.4 472.4,512.0 473.6,515.6 476.0,520.4 478.4,524.0 479.6,527.6 482.0,528.8 484.4,530.0 482.0,532.4 478.4,534.8 473.6,537.2 468.8,538.4 465.2,539.6 461.6,542.0 458.0,543.2 461.6,539.6 464.0,537.2 467.6,535.4 466.4,532.4 462.8,530.0 461.6,526.4 465.2,524.0 467.6,520.4 466.4,516.8 462.8,515.6 460.4,512.0 459.8,507.2 459.2,502.4 458.0,498.8 458.0,496.4"/>
<polyline points="460.4,557.0 461.6,552.8 467.6,551.6 472.4,548.0 476.0,546.8 479.6,544.4 482.0,542.0 485.6,540.8 488.0,538.4 491.6,537.2 495.2,536.0 497.6,533.6 502.4,530.0 506.0,525.2 507.2,520.4 506.0,516.8 503.6,513.2 503.6,506.0 507.2,501.2 509.6,497.6 512.0,501.2 514.4,504.8 516.8,508.4 519.2,510.8 522.8,512.0 524.0,514.4 526.4,515.6 533.6,510.8 538.4,508.4 542.0,504.8 543.2,498.8 544.4,494.0"/>
<polyline points="491.6,474.8 492.8,482.0 495.2,488.0 496.4,494.0 500.0,495.2 503.6,492.8 507.2,489.2 509.6,486.8 512.0,490.4 515.6,496.4 519.2,501.2 522.8,500.0 524.0,494.0 526.0,488.0 528.0,482.0 527.0,476.0 524.0,470.0"/>
<polyline points="524.0,470.0 526.4,476.0 531.2,478.4 530.0,484.0 528.8,490.0 527.6,496.0 525.2,500.0"/>
<polyline points="543.2,479.6 544.4,485.6 543.2,494.0 542.0,501.0 539.6,507.0"/>
<polyline points="490.0,582.0 500.0,583.5 505.0,585.2 508.6,582.5 514.0,578.9 514.9,576.7 519.4,576.2 523.0,578.0 525.7,582.5 529.3,586.1 534.7,587.9 539.2,590.6 544.6,592.4 550.0,595.1 553.6,597.8 555.5,601.4 556.4,605.0 559.1,603.2 560.9,600.5 559.1,596.9 559.1,592.4 562.7,591.5 566.3,591.5 565.4,589.7 562.7,588.8 559.1,587.0 555.5,586.1 551.8,584.3 548.2,582.5 545.5,580.7 542.8,578.0 541.0,575.3 536.5,572.6 532.9,571.7 531.1,569.0 530.2,566.3 532.0,564.5 535.6,565.0 539.2,566.3 542.8,568.1 545.5,571.7 550.0,573.5 555.5,575.3 560.9,578.0 566.3,579.8 569.0,582.5 569.9,586.1 571.7,588.8 572.0,591.8"/>
<polyline points="541.0,612.3 543.7,610.5 548.2,610.0 551.8,608.6 554.5,606.8 556.4,608.6 557.3,612.3 556.4,616.8 553.6,616.8 548.2,615.9 544.6,615.0 541.0,612.3"/>
<polyline points="521.2,583.4 522.1,587.0 521.2,590.6 523.0,596.0 523.9,600.5 524.8,605.0 523.0,608.6 520.3,608.6 518.5,603.2 517.6,597.8 518.5,594.2 518.1,588.8 519.4,585.2 521.2,583.4"/>
<polyline points="430.0,169.2 432.9,169.7 436.0,171.0 440.6,173.0 441.7,177.4 439.5,185.1 434.0,189.5 435.1,196.1 441.7,193.9 450.5,196.1 449.4,202.8 441.7,205.0 446.1,211.6 451.6,214.9 448.3,222.6 443.9,229.2 435.1,233.6 430.0,234.6"/>
</g>
<text x="164.5" y="236.5" class="lab" text-anchor="middle">9</text>
<text x="164.5" y="247.5" class="lab" text-anchor="middle" transform="rotate(90 164.5 243.5)">2</text>
<text x="213" y="257" class="lab" text-anchor="middle" transform="rotate(-60 213 253)">2</text>
<text x="299" y="251" class="lab" text-anchor="middle">9</text>
<text x="297" y="264" class="lab" text-anchor="middle" transform="rotate(-20 297 260)">6</text>
<text x="250" y="285" class="lab" text-anchor="middle" transform="rotate(-90 250 281)">2</text>
<text x="181" y="350" class="lab" text-anchor="middle" transform="rotate(-30 181 346)">8</text>
<text x="205" y="417" class="lab" text-anchor="middle" transform="rotate(75 205 413)">-10</text>
<text x="321" y="443" class="lab" text-anchor="middle" transform="rotate(-30 321 439)">-4</text>
<text x="587" y="229" class="lab" text-anchor="middle" transform="rotate(45 587 225)">-6</text>
<text x="595" y="324" class="lab" text-anchor="middle">4</text>
<text x="595" y="335" class="lab" text-anchor="middle">6</text>
<text x="658" y="319" class="lab" text-anchor="middle" transform="rotate(90 658 315)">5</text>
<text x="686" y="389" class="lab" text-anchor="middle" transform="rotate(20 686 385)">2</text>
<text x="589" y="399" class="lab" text-anchor="middle" transform="rotate(-20 589 395)">2</text>
<text x="633" y="414" class="lab" text-anchor="middle" transform="rotate(-30 633 410)">7</text>
<text x="596" y="469" class="lab" text-anchor="middle" transform="rotate(-45 596 465)">-2</text>
<text x="631" y="453" class="lab" text-anchor="middle" transform="rotate(20 631 449)">2</text>
<text x="588" y="512" class="lab" text-anchor="middle" transform="rotate(-20 588 508)">2</text>
<text x="746" y="426" class="lab" text-anchor="middle" transform="rotate(90 746 422)">-5</text>
<text x="735" y="447" class="lab" text-anchor="middle" transform="rotate(90 735 443)">-2</text>
<text x="783" y="404" class="lab" text-anchor="middle" transform="rotate(90 783 400)">5</text>
<text x="821" y="406" class="lab" text-anchor="middle" transform="rotate(-30 821 402)">5</text>
<text x="850" y="374" class="lab" text-anchor="middle" transform="rotate(-30 850 370)">5</text>
<text x="794" y="454" class="lab" text-anchor="middle" transform="rotate(90 794 450)">-6</text>
<text x="844" y="438" class="lab" text-anchor="middle" transform="rotate(90 844 434)">-1</text>
<text x="891" y="442" class="lab" text-anchor="middle" transform="rotate(90 891 438)">-3</text>
<text x="487" y="534" class="lab" text-anchor="middle">5</text>
<text x="507" y="538" class="lab" text-anchor="middle">-5</text>
<text x="534" y="523" class="lab" text-anchor="middle">5</text>
<text x="553" y="520" class="lab" text-anchor="middle" transform="rotate(-30 553 516)">2</text>
<text x="539" y="536" class="lab" text-anchor="middle" transform="rotate(-20 539 532)">0</text>
<text x="436" y="611" class="lab" text-anchor="middle">6</text>
<text x="483" y="591" class="lab" text-anchor="middle">5</text>
<text x="536" y="604" class="lab" text-anchor="middle">-5</text>
<text x="567" y="606" class="lab" text-anchor="middle">-8</text>
<text x="495" y="535" class="lab" text-anchor="middle">8</text>
<text x="526" y="502" class="lab" text-anchor="middle" transform="rotate(-20 526 498)">28</text>
<text x="661" y="88" class="lab" text-anchor="middle" transform="rotate(90 661 84)">5</text>
<text x="552" y="624" class="lab" text-anchor="middle">2</text>
<rect x="46.5" y="56.5" width="872" height="636" fill="none" stroke="#000" stroke-width="1"/>
<g shape-rendering="crispEdges"><rect x="931" y="107" width="32" height="26" fill="#FFCCCC"/><rect x="931" y="133" width="32" height="25" fill="#FF99CC"/><rect x="931" y="158" width="32" height="26" fill="#CC66CC"/><rect x="931" y="184" width="32" height="25" fill="#9900CC"/><rect x="931" y="209" width="32" height="26" fill="#FF0000"/><rect x="931" y="235" width="32" height="25" fill="#FF6600"/><rect x="931" y="260" width="32" height="26" fill="#FF9966"/><rect x="931" y="286" width="32" height="25" fill="#FFCC00"/><rect x="931" y="311" width="32" height="26" fill="#FFFF00"/><rect x="931" y="337" width="32" height="25" fill="#FFFF99"/><rect x="931" y="362" width="32" height="25" fill="url(#pY)"/><rect x="931" y="387" width="32" height="26" fill="url(#pG)"/><rect x="931" y="413" width="32" height="25" fill="#99FF99"/><rect x="931" y="438" width="32" height="26" fill="#00FF00"/><rect x="931" y="464" width="32" height="25" fill="#99FFFF"/><rect x="931" y="489" width="32" height="26" fill="#66CCFF"/><rect x="931" y="515" width="32" height="25" fill="#6699FF"/><rect x="931" y="540" width="32" height="26" fill="#9966FF"/><rect x="931" y="566" width="32" height="25" fill="#FF00FF"/><rect x="931" y="591" width="32" height="26" fill="#669999"/><rect x="931" y="617" width="32" height="25" fill="#99CCCC"/><line x1="931" y1="107.5" x2="964" y2="107.5" stroke="#000" stroke-width="1"/><line x1="931" y1="133.5" x2="964" y2="133.5" stroke="#000" stroke-width="1"/><line x1="931" y1="158.5" x2="964" y2="158.5" stroke="#000" stroke-width="1"/><line x1="931" y1="184.5" x2="964" y2="184.5" stroke="#000" stroke-width="1"/><line x1="931" y1="209.5" x2="964" y2="209.5" stroke="#000" stroke-width="1"/><line x1="931" y1="235.5" x2="964" y2="235.5" stroke="#000" stroke-width="1"/><line x1="931" y1="260.5" x2="964" y2="260.5" stroke="#000" stroke-width="1"/><line x1="931" y1="286.5" x2="964" y2="286.5" stroke="#000" stroke-width="1"/><line x1="931" y1="311.5" x2="964" y2="311.5" stroke="#000" stroke-width="1"/><line x1="931" y1="337.5" x2="964" y2="337.5" stroke="#000" stroke-width="1"/><line x1="931" y1="362.5" x2="964" y2="362.5" stroke="#000" stroke-width="1"/><line x1="931" y1="387.5" x2="964" y2="387.5" stroke="#000" stroke-width="1"/><line x1="931" y1="413.5" x2="964" y2="413.5" stroke="#000" stroke-width="1"/><line x1="931" y1="438.5" x2="964" y2="438.5" stroke="#000" stroke-width="1"/><line x1="931" y1="464.5" x2="964" y2="464.5" stroke="#000" stroke-width="1"/><line x1="931" y1="489.5" x2="964" y2="489.5" stroke="#000" stroke-width="1"/><line x1="931" y1="515.5" x2="964" y2="515.5" stroke="#000" stroke-width="1"/><line x1="931" y1="540.5" x2="964" y2="540.5" stroke="#000" stroke-width="1"/><line x1="931" y1="566.5" x2="964" y2="566.5" stroke="#000" stroke-width="1"/><line x1="931" y1="591.5" x2="964" y2="591.5" stroke="#000" stroke-width="1"/><line x1="931" y1="617.5" x2="964" y2="617.5" stroke="#000" stroke-width="1"/><line x1="931" y1="642.5" x2="964" y2="642.5" stroke="#000" stroke-width="1"/><line x1="931.5" y1="107" x2="931.5" y2="643" stroke="#000" stroke-width="1"/><line x1="963.5" y1="107" x2="963.5" y2="643" stroke="#000" stroke-width="1"/></g><text transform="translate(970.3,142.8) scale(0.78,1)" class="leg">50</text><text transform="translate(970.3,193.8) scale(0.78,1)" class="leg">40</text><text transform="translate(970.3,244.8) scale(0.78,1)" class="leg">30</text><text transform="translate(970.3,295.8) scale(0.78,1)" class="leg">20</text><text transform="translate(970.3,346.8) scale(0.78,1)" class="leg">10</text><text transform="translate(970.3,396.8) scale(0.78,1)" class="leg">0</text><text transform="translate(970.3,447.8) scale(0.78,1)" class="leg">-10</text><text transform="translate(970.3,498.8) scale(0.78,1)" class="leg">-20</text><text transform="translate(970.3,549.8) scale(0.78,1)" class="leg">-30</text><text transform="translate(970.3,600.8) scale(0.78,1)" class="leg">-40</text><text transform="translate(970.3,651.8) scale(0.78,1)" class="leg">-50</text>
</svg>
</body></html>
